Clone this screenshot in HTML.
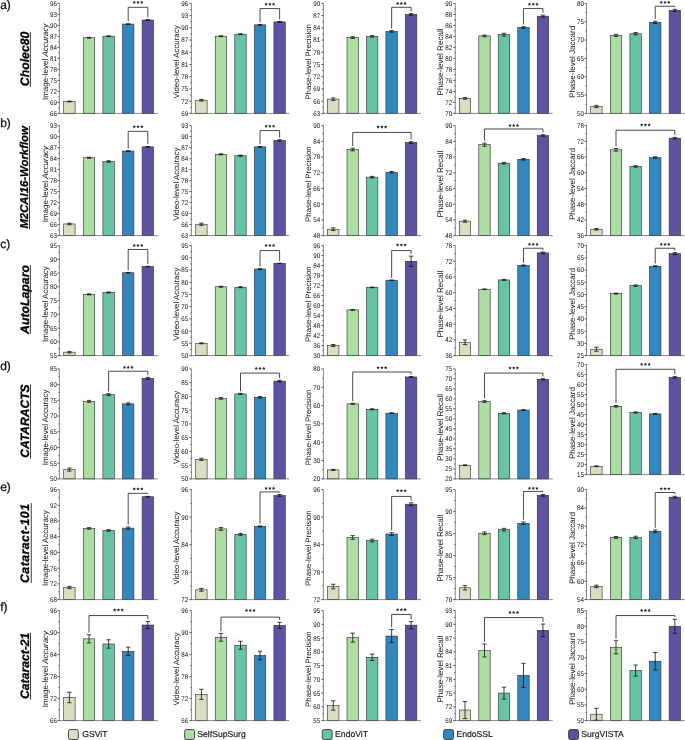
<!DOCTYPE html>
<html><head><meta charset="utf-8"><style>
html,body{margin:0;padding:0;background:#fff;}
body{width:685px;height:740px;overflow:hidden;}
svg{display:block;will-change:transform;}
text{text-rendering:geometricPrecision;}
text{font-family:"Liberation Sans",sans-serif;}
.tk{font-size:6.8px;fill:#111;text-anchor:end;}
.ti{font-size:8px;fill:#111;text-anchor:middle;}
.st{font-size:9.2px;font-weight:bold;fill:#222;text-anchor:middle;}
.lt{font-size:12px;fill:#111;stroke:#111;stroke-width:0.25px;}
.ds{font-weight:bold;font-style:italic;fill:#000;stroke:#000;stroke-width:0.3px;text-anchor:middle;}
.lg{font-size:8.65px;fill:#111;stroke:#111;stroke-width:0.15px;}
</style></head><body>
<svg width="685" height="740" viewBox="0 0 685 740">
<rect x="63.7" y="101.48" width="11.4" height="11.92" fill="#d9dec2" stroke="#2a2a2a" stroke-width="0.6"/>
<rect x="83.3" y="37.76" width="11.4" height="75.64" fill="#acdda2" stroke="#2a2a2a" stroke-width="0.6"/>
<rect x="102.9" y="36.21" width="11.4" height="77.19" fill="#66c3a5" stroke="#2a2a2a" stroke-width="0.6"/>
<rect x="122.5" y="24.09" width="11.4" height="89.31" fill="#3487bd" stroke="#2a2a2a" stroke-width="0.6"/>
<rect x="142.1" y="20.05" width="11.4" height="93.35" fill="#5c53a3" stroke="#2a2a2a" stroke-width="0.6"/>
<path d="M69.4 101.11V101.85M67.2 101.11h4.4M67.2 101.85h4.4" stroke="#111" stroke-width="0.8" fill="none"/>
<path d="M89 37.4V38.13M86.8 37.4h4.4M86.8 38.13h4.4" stroke="#111" stroke-width="0.8" fill="none"/>
<path d="M108.6 35.84V36.58M106.4 35.84h4.4M106.4 36.58h4.4" stroke="#111" stroke-width="0.8" fill="none"/>
<path d="M128.2 23.72V24.45M126 23.72h4.4M126 24.45h4.4" stroke="#111" stroke-width="0.8" fill="none"/>
<path d="M147.8 19.68V20.41M145.6 19.68h4.4M145.6 20.41h4.4" stroke="#111" stroke-width="0.8" fill="none"/>
<path d="M59.4 3.4V113.4M58.4 113.4H157.7" stroke="#555" stroke-width="0.7" fill="none"/>
<path d="M57.4 113.4h2M58.4 107.9h1M57.4 102.4h2M58.4 96.9h1M57.4 91.4h2M58.4 85.9h1M57.4 80.4h2M58.4 74.9h1M57.4 69.4h2M58.4 63.9h1M57.4 58.4h2M58.4 52.9h1M57.4 47.4h2M58.4 41.9h1M57.4 36.4h2M58.4 30.9h1M57.4 25.4h2M58.4 19.9h1M57.4 14.4h2M58.4 8.9h1M57.4 3.4h2" stroke="#333" stroke-width="0.8" fill="none"/>
<text class="tk" transform="translate(57 115.8) scale(0.92 1)">66</text>
<text class="tk" transform="translate(57 104.8) scale(0.92 1)">69</text>
<text class="tk" transform="translate(57 93.8) scale(0.92 1)">72</text>
<text class="tk" transform="translate(57 82.8) scale(0.92 1)">75</text>
<text class="tk" transform="translate(57 71.8) scale(0.92 1)">78</text>
<text class="tk" transform="translate(57 60.8) scale(0.92 1)">81</text>
<text class="tk" transform="translate(57 49.8) scale(0.92 1)">84</text>
<text class="tk" transform="translate(57 38.8) scale(0.92 1)">87</text>
<text class="tk" transform="translate(57 27.8) scale(0.92 1)">90</text>
<text class="tk" transform="translate(57 16.8) scale(0.92 1)">93</text>
<text class="tk" transform="translate(57 5.8) scale(0.92 1)">96</text>
<text class="ti" style="font-size:7.99px" transform="translate(47.7 61.9) rotate(-90)">Image-level <tspan font-style="italic">Accuracy</tspan></text>
<path d="M128.2 21.52V7.3H147.8V17.48" stroke="#2a2a2a" stroke-width="0.85" fill="none"/>
<polygon points="134.25,0.6 134.75,1.71 135.96,1.84 135.06,2.66 135.31,3.85 134.25,3.25 133.19,3.85 133.44,2.66 132.54,1.84 133.75,1.71" fill="#222"/>
<polygon points="138,0.6 138.5,1.71 139.71,1.84 138.81,2.66 139.06,3.85 138,3.25 136.94,3.85 137.19,2.66 136.29,1.84 137.5,1.71" fill="#222"/>
<polygon points="141.75,0.6 142.25,1.71 143.46,1.84 142.56,2.66 142.81,3.85 141.75,3.25 140.69,3.85 140.94,2.66 140.04,1.84 141.25,1.71" fill="#222"/>
<rect x="195.7" y="100.24" width="11.4" height="13.16" fill="#d9dec2" stroke="#2a2a2a" stroke-width="0.6"/>
<rect x="215.25" y="36.21" width="11.4" height="77.19" fill="#acdda2" stroke="#2a2a2a" stroke-width="0.6"/>
<rect x="234.8" y="34.19" width="11.4" height="79.21" fill="#66c3a5" stroke="#2a2a2a" stroke-width="0.6"/>
<rect x="254.35" y="24.86" width="11.4" height="88.54" fill="#3487bd" stroke="#2a2a2a" stroke-width="0.6"/>
<rect x="273.9" y="21.91" width="11.4" height="91.49" fill="#5c53a3" stroke="#2a2a2a" stroke-width="0.6"/>
<path d="M201.4 99.42V101.05M199.2 99.42h4.4M199.2 101.05h4.4" stroke="#111" stroke-width="0.8" fill="none"/>
<path d="M220.95 35.8V36.62M218.75 35.8h4.4M218.75 36.62h4.4" stroke="#111" stroke-width="0.8" fill="none"/>
<path d="M240.5 33.78V34.6M238.3 33.78h4.4M238.3 34.6h4.4" stroke="#111" stroke-width="0.8" fill="none"/>
<path d="M260.05 24.46V25.27M257.85 24.46h4.4M257.85 25.27h4.4" stroke="#111" stroke-width="0.8" fill="none"/>
<path d="M279.6 21.5V22.32M277.4 21.5h4.4M277.4 22.32h4.4" stroke="#111" stroke-width="0.8" fill="none"/>
<path d="M191.4 3.4V113.4M190.4 113.4H289.05" stroke="#555" stroke-width="0.7" fill="none"/>
<path d="M189.4 113.4h2M190.4 107.29h1M189.4 101.18h2M190.4 95.07h1M189.4 88.96h2M190.4 82.84h1M189.4 76.73h2M190.4 70.62h1M189.4 64.51h2M190.4 58.4h1M189.4 52.29h2M190.4 46.18h1M189.4 40.07h2M190.4 33.96h1M189.4 27.84h2M190.4 21.73h1M189.4 15.62h2M190.4 9.51h1M189.4 3.4h2" stroke="#333" stroke-width="0.8" fill="none"/>
<text class="tk" transform="translate(188.3 115.8) scale(0.92 1)">69</text>
<text class="tk" transform="translate(188.3 103.58) scale(0.92 1)">72</text>
<text class="tk" transform="translate(188.3 91.36) scale(0.92 1)">75</text>
<text class="tk" transform="translate(188.3 79.13) scale(0.92 1)">78</text>
<text class="tk" transform="translate(188.3 66.91) scale(0.92 1)">81</text>
<text class="tk" transform="translate(188.3 54.69) scale(0.92 1)">84</text>
<text class="tk" transform="translate(188.3 42.47) scale(0.92 1)">87</text>
<text class="tk" transform="translate(188.3 30.24) scale(0.92 1)">90</text>
<text class="tk" transform="translate(188.3 18.02) scale(0.92 1)">93</text>
<text class="tk" transform="translate(188.3 5.8) scale(0.92 1)">96</text>
<text class="ti" style="font-size:7.88px" transform="translate(179.47 61.9) rotate(-90)">Video-level Accuracy</text>
<path d="M260.05 22.26V8.55H279.6V19.3" stroke="#2a2a2a" stroke-width="0.85" fill="none"/>
<polygon points="266.08,2.46 266.57,3.57 267.79,3.71 266.88,4.52 267.13,5.72 266.08,5.11 265.02,5.72 265.27,4.52 264.36,3.71 265.58,3.57" fill="#222"/>
<polygon points="269.83,2.46 270.32,3.57 271.54,3.71 270.63,4.52 270.88,5.72 269.83,5.11 268.77,5.72 269.02,4.52 268.11,3.71 269.33,3.57" fill="#222"/>
<polygon points="273.58,2.46 274.07,3.57 275.29,3.71 274.38,4.52 274.63,5.72 273.58,5.11 272.52,5.72 272.77,4.52 271.86,3.71 273.08,3.57" fill="#222"/>
<rect x="327.55" y="99.15" width="11.4" height="14.25" fill="#d9dec2" stroke="#2a2a2a" stroke-width="0.6"/>
<rect x="347.01" y="37.61" width="11.4" height="75.79" fill="#acdda2" stroke="#2a2a2a" stroke-width="0.6"/>
<rect x="366.47" y="36.36" width="11.4" height="77.04" fill="#66c3a5" stroke="#2a2a2a" stroke-width="0.6"/>
<rect x="385.93" y="31.39" width="11.4" height="82.01" fill="#3487bd" stroke="#2a2a2a" stroke-width="0.6"/>
<rect x="405.39" y="14.45" width="11.4" height="98.95" fill="#5c53a3" stroke="#2a2a2a" stroke-width="0.6"/>
<path d="M333.25 97.93V100.37M331.05 97.93h4.4M331.05 100.37h4.4" stroke="#111" stroke-width="0.8" fill="none"/>
<path d="M352.71 36.79V38.42M350.51 36.79h4.4M350.51 38.42h4.4" stroke="#111" stroke-width="0.8" fill="none"/>
<path d="M372.17 35.55V37.18M369.97 35.55h4.4M369.97 37.18h4.4" stroke="#111" stroke-width="0.8" fill="none"/>
<path d="M391.63 30.58V32.21M389.43 30.58h4.4M389.43 32.21h4.4" stroke="#111" stroke-width="0.8" fill="none"/>
<path d="M411.09 13.64V15.27M408.89 13.64h4.4M408.89 15.27h4.4" stroke="#111" stroke-width="0.8" fill="none"/>
<path d="M323.4 3.4V113.4M322.4 113.4H420.9" stroke="#555" stroke-width="0.7" fill="none"/>
<path d="M321.4 113.4h2M322.4 107.29h1M321.4 101.18h2M322.4 95.07h1M321.4 88.96h2M322.4 82.84h1M321.4 76.73h2M322.4 70.62h1M321.4 64.51h2M322.4 58.4h1M321.4 52.29h2M322.4 46.18h1M321.4 40.07h2M322.4 33.96h1M321.4 27.84h2M322.4 21.73h1M321.4 15.62h2M322.4 9.51h1M321.4 3.4h2" stroke="#333" stroke-width="0.8" fill="none"/>
<text class="tk" transform="translate(320.3 115.8) scale(0.92 1)">63</text>
<text class="tk" transform="translate(320.3 103.58) scale(0.92 1)">66</text>
<text class="tk" transform="translate(320.3 91.36) scale(0.92 1)">69</text>
<text class="tk" transform="translate(320.3 79.13) scale(0.92 1)">72</text>
<text class="tk" transform="translate(320.3 66.91) scale(0.92 1)">75</text>
<text class="tk" transform="translate(320.3 54.69) scale(0.92 1)">78</text>
<text class="tk" transform="translate(320.3 42.47) scale(0.92 1)">81</text>
<text class="tk" transform="translate(320.3 30.24) scale(0.92 1)">84</text>
<text class="tk" transform="translate(320.3 18.02) scale(0.92 1)">87</text>
<text class="tk" transform="translate(320.3 5.8) scale(0.92 1)">90</text>
<text class="ti" style="font-size:7.86px" transform="translate(311.11 61.9) rotate(-90)">Phase-level Precision</text>
<path d="M391.63 28.38V7.3H411.09V11.44" stroke="#2a2a2a" stroke-width="0.85" fill="none"/>
<polygon points="397.61,1.69 398.11,2.8 399.32,2.93 398.42,3.75 398.67,4.94 397.61,4.34 396.55,4.94 396.8,3.75 395.9,2.93 397.11,2.8" fill="#222"/>
<polygon points="401.36,1.69 401.86,2.8 403.07,2.93 402.17,3.75 402.42,4.94 401.36,4.34 400.3,4.94 400.55,3.75 399.65,2.93 400.86,2.8" fill="#222"/>
<polygon points="405.11,1.69 405.61,2.8 406.82,2.93 405.92,3.75 406.17,4.94 405.11,4.34 404.05,4.94 404.3,3.75 403.4,2.93 404.61,2.8" fill="#222"/>
<rect x="459.3" y="98.37" width="11.4" height="15.03" fill="#d9dec2" stroke="#2a2a2a" stroke-width="0.6"/>
<rect x="478.79" y="35.9" width="11.4" height="77.5" fill="#acdda2" stroke="#2a2a2a" stroke-width="0.6"/>
<rect x="498.28" y="34.66" width="11.4" height="78.74" fill="#66c3a5" stroke="#2a2a2a" stroke-width="0.6"/>
<rect x="517.77" y="27.51" width="11.4" height="85.89" fill="#3487bd" stroke="#2a2a2a" stroke-width="0.6"/>
<rect x="537.26" y="16.16" width="11.4" height="97.24" fill="#5c53a3" stroke="#2a2a2a" stroke-width="0.6"/>
<path d="M465 97.55V99.2M462.8 97.55h4.4M462.8 99.2h4.4" stroke="#111" stroke-width="0.8" fill="none"/>
<path d="M484.49 35.07V36.72M482.29 35.07h4.4M482.29 36.72h4.4" stroke="#111" stroke-width="0.8" fill="none"/>
<path d="M503.98 33.28V36.03M501.78 33.28h4.4M501.78 36.03h4.4" stroke="#111" stroke-width="0.8" fill="none"/>
<path d="M523.47 26.68V28.33M521.27 26.68h4.4M521.27 28.33h4.4" stroke="#111" stroke-width="0.8" fill="none"/>
<path d="M542.96 15.06V17.26M540.76 15.06h4.4M540.76 17.26h4.4" stroke="#111" stroke-width="0.8" fill="none"/>
<path d="M455.3 3.4V113.4M454.3 113.4H552.7" stroke="#555" stroke-width="0.7" fill="none"/>
<path d="M453.3 113.4h2M454.3 107.9h1M453.3 102.4h2M454.3 96.9h1M453.3 91.4h2M454.3 85.9h1M453.3 80.4h2M454.3 74.9h1M453.3 69.4h2M454.3 63.9h1M453.3 58.4h2M454.3 52.9h1M453.3 47.4h2M454.3 41.9h1M453.3 36.4h2M454.3 30.9h1M453.3 25.4h2M454.3 19.9h1M453.3 14.4h2M454.3 8.9h1M453.3 3.4h2" stroke="#333" stroke-width="0.8" fill="none"/>
<text class="tk" transform="translate(452.3 115.8) scale(0.92 1)">70</text>
<text class="tk" transform="translate(452.3 104.8) scale(0.92 1)">72</text>
<text class="tk" transform="translate(452.3 93.8) scale(0.92 1)">74</text>
<text class="tk" transform="translate(452.3 82.8) scale(0.92 1)">76</text>
<text class="tk" transform="translate(452.3 71.8) scale(0.92 1)">78</text>
<text class="tk" transform="translate(452.3 60.8) scale(0.92 1)">80</text>
<text class="tk" transform="translate(452.3 49.8) scale(0.92 1)">82</text>
<text class="tk" transform="translate(452.3 38.8) scale(0.92 1)">84</text>
<text class="tk" transform="translate(452.3 27.8) scale(0.92 1)">86</text>
<text class="tk" transform="translate(452.3 16.8) scale(0.92 1)">88</text>
<text class="tk" transform="translate(452.3 5.8) scale(0.92 1)">90</text>
<text class="ti" style="font-size:8.1px" transform="translate(443.03 61.9) rotate(-90)">Phase-level Recall</text>
<path d="M523.47 24.48V8.55H542.96V12.86" stroke="#2a2a2a" stroke-width="0.85" fill="none"/>
<polygon points="529.47,2.46 529.96,3.57 531.18,3.71 530.27,4.52 530.52,5.72 529.47,5.11 528.41,5.72 528.66,4.52 527.75,3.71 528.97,3.57" fill="#222"/>
<polygon points="533.22,2.46 533.71,3.57 534.93,3.71 534.02,4.52 534.27,5.72 533.22,5.11 532.16,5.72 532.41,4.52 531.5,3.71 532.72,3.57" fill="#222"/>
<polygon points="536.97,2.46 537.46,3.57 538.68,3.71 537.77,4.52 538.02,5.72 536.97,5.11 535.91,5.72 536.16,4.52 535.25,3.71 536.47,3.57" fill="#222"/>
<rect x="590.7" y="106.45" width="11.4" height="6.95" fill="#d9dec2" stroke="#2a2a2a" stroke-width="0.6"/>
<rect x="610.31" y="35.43" width="11.4" height="77.97" fill="#acdda2" stroke="#2a2a2a" stroke-width="0.6"/>
<rect x="629.92" y="33.72" width="11.4" height="79.68" fill="#66c3a5" stroke="#2a2a2a" stroke-width="0.6"/>
<rect x="649.53" y="22.38" width="11.4" height="91.02" fill="#3487bd" stroke="#2a2a2a" stroke-width="0.6"/>
<rect x="669.14" y="10.41" width="11.4" height="102.99" fill="#5c53a3" stroke="#2a2a2a" stroke-width="0.6"/>
<path d="M596.4 105.35V107.55M594.2 105.35h4.4M594.2 107.55h4.4" stroke="#111" stroke-width="0.8" fill="none"/>
<path d="M616.01 34.33V36.53M613.81 34.33h4.4M613.81 36.53h4.4" stroke="#111" stroke-width="0.8" fill="none"/>
<path d="M635.62 32.62V34.82M633.42 32.62h4.4M633.42 34.82h4.4" stroke="#111" stroke-width="0.8" fill="none"/>
<path d="M655.23 21.28V23.48M653.03 21.28h4.4M653.03 23.48h4.4" stroke="#111" stroke-width="0.8" fill="none"/>
<path d="M674.84 9.31V11.51M672.64 9.31h4.4M672.64 11.51h4.4" stroke="#111" stroke-width="0.8" fill="none"/>
<path d="M586.5 3.4V113.4M585.5 113.4H684.6" stroke="#555" stroke-width="0.7" fill="none"/>
<path d="M584.5 113.4h2M585.5 104.23h1M584.5 95.07h2M585.5 85.9h1M584.5 76.73h2M585.5 67.57h1M584.5 58.4h2M585.5 49.23h1M584.5 40.07h2M585.5 30.9h1M584.5 21.73h2M585.5 12.57h1M584.5 3.4h2" stroke="#333" stroke-width="0.8" fill="none"/>
<text class="tk" transform="translate(584 115.8) scale(0.92 1)">50</text>
<text class="tk" transform="translate(584 97.47) scale(0.92 1)">55</text>
<text class="tk" transform="translate(584 79.13) scale(0.92 1)">60</text>
<text class="tk" transform="translate(584 60.8) scale(0.92 1)">65</text>
<text class="tk" transform="translate(584 42.47) scale(0.92 1)">70</text>
<text class="tk" transform="translate(584 24.13) scale(0.92 1)">75</text>
<text class="tk" transform="translate(584 5.8) scale(0.92 1)">80</text>
<text class="ti" style="font-size:8px" transform="translate(574.56 61.9) rotate(-90)">Phase-level Jaccard</text>
<path d="M655.23 19.08V6.22H674.84V7.11" stroke="#2a2a2a" stroke-width="0.85" fill="none"/>
<polygon points="661.28,0.6 661.78,1.71 663,1.84 662.09,2.66 662.34,3.85 661.28,3.25 660.23,3.85 660.48,2.66 659.57,1.84 660.79,1.71" fill="#222"/>
<polygon points="665.03,0.6 665.53,1.71 666.75,1.84 665.84,2.66 666.09,3.85 665.03,3.25 663.98,3.85 664.23,2.66 663.32,1.84 664.54,1.71" fill="#222"/>
<polygon points="668.78,0.6 669.28,1.71 670.5,1.84 669.59,2.66 669.84,3.85 668.78,3.25 667.73,3.85 667.98,2.66 667.07,1.84 668.29,1.71" fill="#222"/>
<rect x="63.7" y="223.95" width="11.4" height="11.65" fill="#d9dec2" stroke="#2a2a2a" stroke-width="0.6"/>
<rect x="83.3" y="157.74" width="11.4" height="77.86" fill="#acdda2" stroke="#2a2a2a" stroke-width="0.6"/>
<rect x="102.9" y="161.47" width="11.4" height="74.13" fill="#66c3a5" stroke="#2a2a2a" stroke-width="0.6"/>
<rect x="122.5" y="151.06" width="11.4" height="84.54" fill="#3487bd" stroke="#2a2a2a" stroke-width="0.6"/>
<rect x="142.1" y="146.86" width="11.4" height="88.74" fill="#5c53a3" stroke="#2a2a2a" stroke-width="0.6"/>
<path d="M69.4 223.21V224.68M67.2 223.21h4.4M67.2 224.68h4.4" stroke="#111" stroke-width="0.8" fill="none"/>
<path d="M89 157.19V158.29M86.8 157.19h4.4M86.8 158.29h4.4" stroke="#111" stroke-width="0.8" fill="none"/>
<path d="M108.6 160.74V162.21M106.4 160.74h4.4M106.4 162.21h4.4" stroke="#111" stroke-width="0.8" fill="none"/>
<path d="M128.2 150.69V151.43M126 150.69h4.4M126 151.43h4.4" stroke="#111" stroke-width="0.8" fill="none"/>
<path d="M147.8 146.5V147.23M145.6 146.5h4.4M145.6 147.23h4.4" stroke="#111" stroke-width="0.8" fill="none"/>
<path d="M59.4 125.6V235.6M58.4 235.6H157.7" stroke="#555" stroke-width="0.7" fill="none"/>
<path d="M57.4 235.6h2M58.4 230.1h1M57.4 224.6h2M58.4 219.1h1M57.4 213.6h2M58.4 208.1h1M57.4 202.6h2M58.4 197.1h1M57.4 191.6h2M58.4 186.1h1M57.4 180.6h2M58.4 175.1h1M57.4 169.6h2M58.4 164.1h1M57.4 158.6h2M58.4 153.1h1M57.4 147.6h2M58.4 142.1h1M57.4 136.6h2M58.4 131.1h1M57.4 125.6h2" stroke="#333" stroke-width="0.8" fill="none"/>
<text class="tk" transform="translate(57 238) scale(0.92 1)">63</text>
<text class="tk" transform="translate(57 227) scale(0.92 1)">66</text>
<text class="tk" transform="translate(57 216) scale(0.92 1)">69</text>
<text class="tk" transform="translate(57 205) scale(0.92 1)">72</text>
<text class="tk" transform="translate(57 194) scale(0.92 1)">75</text>
<text class="tk" transform="translate(57 183) scale(0.92 1)">78</text>
<text class="tk" transform="translate(57 172) scale(0.92 1)">81</text>
<text class="tk" transform="translate(57 161) scale(0.92 1)">84</text>
<text class="tk" transform="translate(57 150) scale(0.92 1)">87</text>
<text class="tk" transform="translate(57 139) scale(0.92 1)">90</text>
<text class="tk" transform="translate(57 128) scale(0.92 1)">93</text>
<text class="ti" style="font-size:7.99px" transform="translate(47.7 184.1) rotate(-90)">Image-level <tspan font-style="italic">Accuracy</tspan></text>
<path d="M128.2 148.49V131.32H147.8V144.3" stroke="#2a2a2a" stroke-width="0.85" fill="none"/>
<polygon points="134.25,124.93 134.75,126.04 135.96,126.17 135.06,126.99 135.31,128.18 134.25,127.58 133.19,128.18 133.44,126.99 132.54,126.17 133.75,126.04" fill="#222"/>
<polygon points="138,124.93 138.5,126.04 139.71,126.17 138.81,126.99 139.06,128.18 138,127.58 136.94,128.18 137.19,126.99 136.29,126.17 137.5,126.04" fill="#222"/>
<polygon points="141.75,124.93 142.25,126.04 143.46,126.17 142.56,126.99 142.81,128.18 141.75,127.58 140.69,128.18 140.94,126.99 140.04,126.17 141.25,126.04" fill="#222"/>
<rect x="195.7" y="224.26" width="11.4" height="11.34" fill="#d9dec2" stroke="#2a2a2a" stroke-width="0.6"/>
<rect x="215.25" y="154.32" width="11.4" height="81.28" fill="#acdda2" stroke="#2a2a2a" stroke-width="0.6"/>
<rect x="234.8" y="155.72" width="11.4" height="79.88" fill="#66c3a5" stroke="#2a2a2a" stroke-width="0.6"/>
<rect x="254.35" y="146.86" width="11.4" height="88.74" fill="#3487bd" stroke="#2a2a2a" stroke-width="0.6"/>
<rect x="273.9" y="140.49" width="11.4" height="95.11" fill="#5c53a3" stroke="#2a2a2a" stroke-width="0.6"/>
<path d="M201.4 223.16V225.36M199.2 223.16h4.4M199.2 225.36h4.4" stroke="#111" stroke-width="0.8" fill="none"/>
<path d="M220.95 153.77V154.87M218.75 153.77h4.4M218.75 154.87h4.4" stroke="#111" stroke-width="0.8" fill="none"/>
<path d="M240.5 155.17V156.27M238.3 155.17h4.4M238.3 156.27h4.4" stroke="#111" stroke-width="0.8" fill="none"/>
<path d="M260.05 146.5V147.23M257.85 146.5h4.4M257.85 147.23h4.4" stroke="#111" stroke-width="0.8" fill="none"/>
<path d="M279.6 139.76V141.23M277.4 139.76h4.4M277.4 141.23h4.4" stroke="#111" stroke-width="0.8" fill="none"/>
<path d="M191.4 125.6V235.6M190.4 235.6H289.05" stroke="#555" stroke-width="0.7" fill="none"/>
<path d="M189.4 235.6h2M190.4 230.1h1M189.4 224.6h2M190.4 219.1h1M189.4 213.6h2M190.4 208.1h1M189.4 202.6h2M190.4 197.1h1M189.4 191.6h2M190.4 186.1h1M189.4 180.6h2M190.4 175.1h1M189.4 169.6h2M190.4 164.1h1M189.4 158.6h2M190.4 153.1h1M189.4 147.6h2M190.4 142.1h1M189.4 136.6h2M190.4 131.1h1M189.4 125.6h2" stroke="#333" stroke-width="0.8" fill="none"/>
<text class="tk" transform="translate(188.3 238) scale(0.92 1)">63</text>
<text class="tk" transform="translate(188.3 227) scale(0.92 1)">66</text>
<text class="tk" transform="translate(188.3 216) scale(0.92 1)">69</text>
<text class="tk" transform="translate(188.3 205) scale(0.92 1)">72</text>
<text class="tk" transform="translate(188.3 194) scale(0.92 1)">75</text>
<text class="tk" transform="translate(188.3 183) scale(0.92 1)">78</text>
<text class="tk" transform="translate(188.3 172) scale(0.92 1)">81</text>
<text class="tk" transform="translate(188.3 161) scale(0.92 1)">84</text>
<text class="tk" transform="translate(188.3 150) scale(0.92 1)">87</text>
<text class="tk" transform="translate(188.3 139) scale(0.92 1)">90</text>
<text class="tk" transform="translate(188.3 128) scale(0.92 1)">93</text>
<text class="ti" style="font-size:7.88px" transform="translate(179.47 184.1) rotate(-90)">Video-level Accuracy</text>
<path d="M260.05 144.3V130.55H279.6V137.56" stroke="#2a2a2a" stroke-width="0.85" fill="none"/>
<polygon points="266.08,124.46 266.57,125.57 267.79,125.71 266.88,126.52 267.13,127.72 266.08,127.11 265.02,127.72 265.27,126.52 264.36,125.71 265.58,125.57" fill="#222"/>
<polygon points="269.83,124.46 270.32,125.57 271.54,125.71 270.63,126.52 270.88,127.72 269.83,127.11 268.77,127.72 269.02,126.52 268.11,125.71 269.33,125.57" fill="#222"/>
<polygon points="273.58,124.46 274.07,125.57 275.29,125.71 274.38,126.52 274.63,127.72 273.58,127.11 272.52,127.72 272.77,126.52 271.86,125.71 273.08,125.57" fill="#222"/>
<rect x="327.55" y="229.23" width="11.4" height="6.37" fill="#d9dec2" stroke="#2a2a2a" stroke-width="0.6"/>
<rect x="347.01" y="149.51" width="11.4" height="86.09" fill="#acdda2" stroke="#2a2a2a" stroke-width="0.6"/>
<rect x="366.47" y="177.17" width="11.4" height="58.43" fill="#66c3a5" stroke="#2a2a2a" stroke-width="0.6"/>
<rect x="385.93" y="172.2" width="11.4" height="63.4" fill="#3487bd" stroke="#2a2a2a" stroke-width="0.6"/>
<rect x="405.39" y="142.51" width="11.4" height="93.09" fill="#5c53a3" stroke="#2a2a2a" stroke-width="0.6"/>
<path d="M333.25 227.92V230.54M331.05 227.92h4.4M331.05 230.54h4.4" stroke="#111" stroke-width="0.8" fill="none"/>
<path d="M352.71 148.2V150.82M350.51 148.2h4.4M350.51 150.82h4.4" stroke="#111" stroke-width="0.8" fill="none"/>
<path d="M372.17 176.38V177.95M369.97 176.38h4.4M369.97 177.95h4.4" stroke="#111" stroke-width="0.8" fill="none"/>
<path d="M391.63 171.41V172.98M389.43 171.41h4.4M389.43 172.98h4.4" stroke="#111" stroke-width="0.8" fill="none"/>
<path d="M411.09 141.73V143.3M408.89 141.73h4.4M408.89 143.3h4.4" stroke="#111" stroke-width="0.8" fill="none"/>
<path d="M323.4 125.6V235.6M322.4 235.6H420.9" stroke="#555" stroke-width="0.7" fill="none"/>
<path d="M321.4 235.6h2M322.4 227.74h1M321.4 219.89h2M322.4 212.03h1M321.4 204.17h2M322.4 196.31h1M321.4 188.46h2M322.4 180.6h1M321.4 172.74h2M322.4 164.89h1M321.4 157.03h2M322.4 149.17h1M321.4 141.31h2M322.4 133.46h1M321.4 125.6h2" stroke="#333" stroke-width="0.8" fill="none"/>
<text class="tk" transform="translate(320.3 238) scale(0.92 1)">48</text>
<text class="tk" transform="translate(320.3 222.29) scale(0.92 1)">54</text>
<text class="tk" transform="translate(320.3 206.57) scale(0.92 1)">60</text>
<text class="tk" transform="translate(320.3 190.86) scale(0.92 1)">66</text>
<text class="tk" transform="translate(320.3 175.14) scale(0.92 1)">72</text>
<text class="tk" transform="translate(320.3 159.43) scale(0.92 1)">78</text>
<text class="tk" transform="translate(320.3 143.71) scale(0.92 1)">84</text>
<text class="tk" transform="translate(320.3 128) scale(0.92 1)">90</text>
<text class="ti" style="font-size:7.86px" transform="translate(311.11 184.1) rotate(-90)">Phase-level Precision</text>
<path d="M352.71 146V132.41H411.09V139.53" stroke="#2a2a2a" stroke-width="0.85" fill="none"/>
<polygon points="378.15,125.24 378.65,126.35 379.86,126.48 378.96,127.3 379.21,128.5 378.15,127.89 377.09,128.5 377.34,127.3 376.44,126.48 377.65,126.35" fill="#222"/>
<polygon points="381.9,125.24 382.4,126.35 383.61,126.48 382.71,127.3 382.96,128.5 381.9,127.89 380.84,128.5 381.09,127.3 380.19,126.48 381.4,126.35" fill="#222"/>
<polygon points="385.65,125.24 386.15,126.35 387.36,126.48 386.46,127.3 386.71,128.5 385.65,127.89 384.59,128.5 384.84,127.3 383.94,126.48 385.15,126.35" fill="#222"/>
<rect x="459.3" y="221.15" width="11.4" height="14.45" fill="#d9dec2" stroke="#2a2a2a" stroke-width="0.6"/>
<rect x="478.79" y="144.69" width="11.4" height="90.91" fill="#acdda2" stroke="#2a2a2a" stroke-width="0.6"/>
<rect x="498.28" y="163.18" width="11.4" height="72.42" fill="#66c3a5" stroke="#2a2a2a" stroke-width="0.6"/>
<rect x="517.77" y="159.3" width="11.4" height="76.3" fill="#3487bd" stroke="#2a2a2a" stroke-width="0.6"/>
<rect x="537.26" y="135.52" width="11.4" height="100.08" fill="#5c53a3" stroke="#2a2a2a" stroke-width="0.6"/>
<path d="M465 220.1V222.2M462.8 220.1h4.4M462.8 222.2h4.4" stroke="#111" stroke-width="0.8" fill="none"/>
<path d="M484.49 143.12V146.26M482.29 143.12h4.4M482.29 146.26h4.4" stroke="#111" stroke-width="0.8" fill="none"/>
<path d="M503.98 162.4V163.97M501.78 162.4h4.4M501.78 163.97h4.4" stroke="#111" stroke-width="0.8" fill="none"/>
<path d="M523.47 158.51V160.08M521.27 158.51h4.4M521.27 160.08h4.4" stroke="#111" stroke-width="0.8" fill="none"/>
<path d="M542.96 134.73V136.31M540.76 134.73h4.4M540.76 136.31h4.4" stroke="#111" stroke-width="0.8" fill="none"/>
<path d="M455.3 125.6V235.6M454.3 235.6H552.7" stroke="#555" stroke-width="0.7" fill="none"/>
<path d="M453.3 235.6h2M454.3 227.74h1M453.3 219.89h2M454.3 212.03h1M453.3 204.17h2M454.3 196.31h1M453.3 188.46h2M454.3 180.6h1M453.3 172.74h2M454.3 164.89h1M453.3 157.03h2M454.3 149.17h1M453.3 141.31h2M454.3 133.46h1M453.3 125.6h2" stroke="#333" stroke-width="0.8" fill="none"/>
<text class="tk" transform="translate(452.3 238) scale(0.92 1)">48</text>
<text class="tk" transform="translate(452.3 222.29) scale(0.92 1)">54</text>
<text class="tk" transform="translate(452.3 206.57) scale(0.92 1)">60</text>
<text class="tk" transform="translate(452.3 190.86) scale(0.92 1)">66</text>
<text class="tk" transform="translate(452.3 175.14) scale(0.92 1)">72</text>
<text class="tk" transform="translate(452.3 159.43) scale(0.92 1)">78</text>
<text class="tk" transform="translate(452.3 143.71) scale(0.92 1)">84</text>
<text class="tk" transform="translate(452.3 128) scale(0.92 1)">90</text>
<text class="ti" style="font-size:8.1px" transform="translate(443.03 184.1) rotate(-90)">Phase-level Recall</text>
<path d="M484.49 140.92V128.99H542.96V132.53" stroke="#2a2a2a" stroke-width="0.85" fill="none"/>
<polygon points="509.98,123.69 510.47,124.8 511.69,124.93 510.78,125.75 511.03,126.94 509.98,126.34 508.92,126.94 509.17,125.75 508.26,124.93 509.48,124.8" fill="#222"/>
<polygon points="513.73,123.69 514.22,124.8 515.44,124.93 514.53,125.75 514.78,126.94 513.73,126.34 512.67,126.94 512.92,125.75 512.01,124.93 513.23,124.8" fill="#222"/>
<polygon points="517.48,123.69 517.97,124.8 519.19,124.93 518.28,125.75 518.53,126.94 517.48,126.34 516.42,126.94 516.67,125.75 515.76,124.93 516.98,124.8" fill="#222"/>
<rect x="590.7" y="229.23" width="11.4" height="6.37" fill="#d9dec2" stroke="#2a2a2a" stroke-width="0.6"/>
<rect x="610.31" y="149.82" width="11.4" height="85.78" fill="#acdda2" stroke="#2a2a2a" stroke-width="0.6"/>
<rect x="629.92" y="166.45" width="11.4" height="69.15" fill="#66c3a5" stroke="#2a2a2a" stroke-width="0.6"/>
<rect x="649.53" y="157.59" width="11.4" height="78.01" fill="#3487bd" stroke="#2a2a2a" stroke-width="0.6"/>
<rect x="669.14" y="138.16" width="11.4" height="97.44" fill="#5c53a3" stroke="#2a2a2a" stroke-width="0.6"/>
<path d="M596.4 228.44V230.02M594.2 228.44h4.4M594.2 230.02h4.4" stroke="#111" stroke-width="0.8" fill="none"/>
<path d="M616.01 148.51V151.13M613.81 148.51h4.4M613.81 151.13h4.4" stroke="#111" stroke-width="0.8" fill="none"/>
<path d="M635.62 165.66V167.23M633.42 165.66h4.4M633.42 167.23h4.4" stroke="#111" stroke-width="0.8" fill="none"/>
<path d="M655.23 156.8V158.37M653.03 156.8h4.4M653.03 158.37h4.4" stroke="#111" stroke-width="0.8" fill="none"/>
<path d="M674.84 137.38V138.95M672.64 137.38h4.4M672.64 138.95h4.4" stroke="#111" stroke-width="0.8" fill="none"/>
<path d="M586.5 125.6V235.6M585.5 235.6H684.6" stroke="#555" stroke-width="0.7" fill="none"/>
<path d="M584.5 235.6h2M585.5 227.74h1M584.5 219.89h2M585.5 212.03h1M584.5 204.17h2M585.5 196.31h1M584.5 188.46h2M585.5 180.6h1M584.5 172.74h2M585.5 164.89h1M584.5 157.03h2M585.5 149.17h1M584.5 141.31h2M585.5 133.46h1M584.5 125.6h2" stroke="#333" stroke-width="0.8" fill="none"/>
<text class="tk" transform="translate(584 238) scale(0.92 1)">36</text>
<text class="tk" transform="translate(584 222.29) scale(0.92 1)">42</text>
<text class="tk" transform="translate(584 206.57) scale(0.92 1)">48</text>
<text class="tk" transform="translate(584 190.86) scale(0.92 1)">54</text>
<text class="tk" transform="translate(584 175.14) scale(0.92 1)">60</text>
<text class="tk" transform="translate(584 159.43) scale(0.92 1)">66</text>
<text class="tk" transform="translate(584 143.71) scale(0.92 1)">72</text>
<text class="tk" transform="translate(584 128) scale(0.92 1)">78</text>
<text class="ti" style="font-size:8px" transform="translate(574.56 184.1) rotate(-90)">Phase-level Jaccard</text>
<path d="M616.01 146.31V130.24H674.84V135.18" stroke="#2a2a2a" stroke-width="0.85" fill="none"/>
<polygon points="641.67,123.22 642.17,124.33 643.39,124.46 642.48,125.28 642.73,126.48 641.67,125.87 640.62,126.48 640.87,125.28 639.96,124.46 641.18,124.33" fill="#222"/>
<polygon points="645.42,123.22 645.92,124.33 647.14,124.46 646.23,125.28 646.48,126.48 645.42,125.87 644.37,126.48 644.62,125.28 643.71,124.46 644.93,124.33" fill="#222"/>
<polygon points="649.17,123.22 649.67,124.33 650.89,124.46 649.98,125.28 650.23,126.48 649.17,125.87 648.12,126.48 648.37,125.28 647.46,124.46 648.68,124.33" fill="#222"/>
<rect x="63.7" y="352.18" width="11.4" height="3.42" fill="#d9dec2" stroke="#2a2a2a" stroke-width="0.6"/>
<rect x="83.3" y="294.37" width="11.4" height="61.23" fill="#acdda2" stroke="#2a2a2a" stroke-width="0.6"/>
<rect x="102.9" y="292.51" width="11.4" height="63.09" fill="#66c3a5" stroke="#2a2a2a" stroke-width="0.6"/>
<rect x="122.5" y="272.77" width="11.4" height="82.83" fill="#3487bd" stroke="#2a2a2a" stroke-width="0.6"/>
<rect x="142.1" y="266.55" width="11.4" height="89.05" fill="#5c53a3" stroke="#2a2a2a" stroke-width="0.6"/>
<path d="M69.4 351.36V353.01M67.2 351.36h4.4M67.2 353.01h4.4" stroke="#111" stroke-width="0.8" fill="none"/>
<path d="M89 293.82V294.92M86.8 293.82h4.4M86.8 294.92h4.4" stroke="#111" stroke-width="0.8" fill="none"/>
<path d="M108.6 291.96V293.06M106.4 291.96h4.4M106.4 293.06h4.4" stroke="#111" stroke-width="0.8" fill="none"/>
<path d="M128.2 272.5V273.05M126 272.5h4.4M126 273.05h4.4" stroke="#111" stroke-width="0.8" fill="none"/>
<path d="M147.8 266.28V266.83M145.6 266.28h4.4M145.6 266.83h4.4" stroke="#111" stroke-width="0.8" fill="none"/>
<path d="M59.4 245.6V355.6M58.4 355.6H157.7" stroke="#555" stroke-width="0.7" fill="none"/>
<path d="M57.4 355.6h2M58.4 348.73h1M57.4 341.85h2M58.4 334.98h1M57.4 328.1h2M58.4 321.23h1M57.4 314.35h2M58.4 307.48h1M57.4 300.6h2M58.4 293.73h1M57.4 286.85h2M58.4 279.98h1M57.4 273.1h2M58.4 266.23h1M57.4 259.35h2M58.4 252.48h1M57.4 245.6h2" stroke="#333" stroke-width="0.8" fill="none"/>
<text class="tk" transform="translate(57 358) scale(0.92 1)">55</text>
<text class="tk" transform="translate(57 344.25) scale(0.92 1)">60</text>
<text class="tk" transform="translate(57 330.5) scale(0.92 1)">65</text>
<text class="tk" transform="translate(57 316.75) scale(0.92 1)">70</text>
<text class="tk" transform="translate(57 303) scale(0.92 1)">75</text>
<text class="tk" transform="translate(57 289.25) scale(0.92 1)">80</text>
<text class="tk" transform="translate(57 275.5) scale(0.92 1)">85</text>
<text class="tk" transform="translate(57 261.75) scale(0.92 1)">90</text>
<text class="tk" transform="translate(57 248) scale(0.92 1)">95</text>
<text class="ti" style="font-size:7.99px" transform="translate(47.7 304.1) rotate(-90)">Image-level Accuracy</text>
<path d="M128.2 270.3V249.46H147.8V264.08" stroke="#2a2a2a" stroke-width="0.85" fill="none"/>
<polygon points="134.25,243.69 134.75,244.8 135.96,244.93 135.06,245.75 135.31,246.94 134.25,246.34 133.19,246.94 133.44,245.75 132.54,244.93 133.75,244.8" fill="#222"/>
<polygon points="138,243.69 138.5,244.8 139.71,244.93 138.81,245.75 139.06,246.94 138,246.34 136.94,246.94 137.19,245.75 136.29,244.93 137.5,244.8" fill="#222"/>
<polygon points="141.75,243.69 142.25,244.8 143.46,244.93 142.56,245.75 142.81,246.94 141.75,246.34 140.69,246.94 140.94,245.75 140.04,244.93 141.25,244.8" fill="#222"/>
<rect x="195.7" y="343.32" width="11.4" height="12.28" fill="#d9dec2" stroke="#2a2a2a" stroke-width="0.6"/>
<rect x="215.25" y="286.76" width="11.4" height="68.84" fill="#acdda2" stroke="#2a2a2a" stroke-width="0.6"/>
<rect x="234.8" y="287.22" width="11.4" height="68.38" fill="#66c3a5" stroke="#2a2a2a" stroke-width="0.6"/>
<rect x="254.35" y="269.04" width="11.4" height="86.56" fill="#3487bd" stroke="#2a2a2a" stroke-width="0.6"/>
<rect x="273.9" y="263.45" width="11.4" height="92.15" fill="#5c53a3" stroke="#2a2a2a" stroke-width="0.6"/>
<path d="M201.4 342.84V343.81M199.2 342.84h4.4M199.2 343.81h4.4" stroke="#111" stroke-width="0.8" fill="none"/>
<path d="M220.95 286.27V287.25M218.75 286.27h4.4M218.75 287.25h4.4" stroke="#111" stroke-width="0.8" fill="none"/>
<path d="M240.5 286.73V287.71M238.3 286.73h4.4M238.3 287.71h4.4" stroke="#111" stroke-width="0.8" fill="none"/>
<path d="M260.05 268.8V269.28M257.85 268.8h4.4M257.85 269.28h4.4" stroke="#111" stroke-width="0.8" fill="none"/>
<path d="M279.6 263.2V263.69M277.4 263.2h4.4M277.4 263.69h4.4" stroke="#111" stroke-width="0.8" fill="none"/>
<path d="M191.4 245.6V355.6M190.4 355.6H289.05" stroke="#555" stroke-width="0.7" fill="none"/>
<path d="M189.4 355.6h2M190.4 349.49h1M189.4 343.38h2M190.4 337.27h1M189.4 331.16h2M190.4 325.04h1M189.4 318.93h2M190.4 312.82h1M189.4 306.71h2M190.4 300.6h1M189.4 294.49h2M190.4 288.38h1M189.4 282.27h2M190.4 276.16h1M189.4 270.04h2M190.4 263.93h1M189.4 257.82h2M190.4 251.71h1M189.4 245.6h2" stroke="#333" stroke-width="0.8" fill="none"/>
<text class="tk" transform="translate(188.3 358) scale(0.92 1)">50</text>
<text class="tk" transform="translate(188.3 345.78) scale(0.92 1)">55</text>
<text class="tk" transform="translate(188.3 333.56) scale(0.92 1)">60</text>
<text class="tk" transform="translate(188.3 321.33) scale(0.92 1)">65</text>
<text class="tk" transform="translate(188.3 309.11) scale(0.92 1)">70</text>
<text class="tk" transform="translate(188.3 296.89) scale(0.92 1)">75</text>
<text class="tk" transform="translate(188.3 284.67) scale(0.92 1)">80</text>
<text class="tk" transform="translate(188.3 272.44) scale(0.92 1)">85</text>
<text class="tk" transform="translate(188.3 260.22) scale(0.92 1)">90</text>
<text class="tk" transform="translate(188.3 248) scale(0.92 1)">95</text>
<text class="ti" style="font-size:7.88px" transform="translate(179.47 304.1) rotate(-90)">Video-level Accuracy</text>
<path d="M260.05 266.6V250.55H279.6V261" stroke="#2a2a2a" stroke-width="0.85" fill="none"/>
<polygon points="266.08,243.69 266.57,244.8 267.79,244.93 266.88,245.75 267.13,246.94 266.08,246.34 265.02,246.94 265.27,245.75 264.36,244.93 265.58,244.8" fill="#222"/>
<polygon points="269.83,243.69 270.32,244.8 271.54,244.93 270.63,245.75 270.88,246.94 269.83,246.34 268.77,246.94 269.02,245.75 268.11,244.93 269.33,244.8" fill="#222"/>
<polygon points="273.58,243.69 274.07,244.8 275.29,244.93 274.38,245.75 274.63,246.94 273.58,246.34 272.52,246.94 272.77,245.75 271.86,244.93 273.08,244.8" fill="#222"/>
<rect x="327.55" y="345.5" width="11.4" height="10.1" fill="#d9dec2" stroke="#2a2a2a" stroke-width="0.6"/>
<rect x="347.01" y="309.91" width="11.4" height="45.69" fill="#acdda2" stroke="#2a2a2a" stroke-width="0.6"/>
<rect x="366.47" y="287.38" width="11.4" height="68.22" fill="#66c3a5" stroke="#2a2a2a" stroke-width="0.6"/>
<rect x="385.93" y="280.23" width="11.4" height="75.37" fill="#3487bd" stroke="#2a2a2a" stroke-width="0.6"/>
<rect x="405.39" y="261.27" width="11.4" height="94.33" fill="#5c53a3" stroke="#2a2a2a" stroke-width="0.6"/>
<path d="M333.25 344.5V346.5M331.05 344.5h4.4M331.05 346.5h4.4" stroke="#111" stroke-width="0.8" fill="none"/>
<path d="M352.71 309.58V310.25M350.51 309.58h4.4M350.51 310.25h4.4" stroke="#111" stroke-width="0.8" fill="none"/>
<path d="M372.17 287.05V287.71M369.97 287.05h4.4M369.97 287.71h4.4" stroke="#111" stroke-width="0.8" fill="none"/>
<path d="M391.63 280.06V280.4M389.43 280.06h4.4M389.43 280.4h4.4" stroke="#111" stroke-width="0.8" fill="none"/>
<path d="M411.09 256.14V266.4M408.89 256.14h4.4M408.89 266.4h4.4" stroke="#111" stroke-width="0.8" fill="none"/>
<path d="M323.4 245.6V355.6M322.4 355.6H420.9" stroke="#555" stroke-width="0.7" fill="none"/>
<path d="M321.4 355.6h2M322.4 350.6h1M321.4 345.6h2M322.4 340.6h1M321.4 335.6h2M322.4 330.6h1M321.4 325.6h2M322.4 320.6h1M321.4 315.6h2M322.4 310.6h1M321.4 305.6h2M322.4 300.6h1M321.4 295.6h2M322.4 290.6h1M321.4 285.6h2M322.4 280.6h1M321.4 275.6h2M322.4 270.6h1M321.4 265.6h2M322.4 260.6h1M321.4 255.6h2M322.4 250.6h1M321.4 245.6h2" stroke="#333" stroke-width="0.8" fill="none"/>
<text class="tk" transform="translate(320.3 358) scale(0.92 1)">30</text>
<text class="tk" transform="translate(320.3 348) scale(0.92 1)">36</text>
<text class="tk" transform="translate(320.3 338) scale(0.92 1)">42</text>
<text class="tk" transform="translate(320.3 328) scale(0.92 1)">48</text>
<text class="tk" transform="translate(320.3 318) scale(0.92 1)">54</text>
<text class="tk" transform="translate(320.3 308) scale(0.92 1)">60</text>
<text class="tk" transform="translate(320.3 298) scale(0.92 1)">66</text>
<text class="tk" transform="translate(320.3 288) scale(0.92 1)">72</text>
<text class="tk" transform="translate(320.3 278) scale(0.92 1)">78</text>
<text class="tk" transform="translate(320.3 268) scale(0.92 1)">84</text>
<text class="tk" transform="translate(320.3 258) scale(0.92 1)">90</text>
<text class="tk" transform="translate(320.3 248) scale(0.92 1)">96</text>
<text class="ti" style="font-size:7.86px" transform="translate(311.11 304.1) rotate(-90)">Phase-level Precision</text>
<path d="M391.63 277.86V250.55H411.09V253.94" stroke="#2a2a2a" stroke-width="0.85" fill="none"/>
<polygon points="397.61,243.22 398.11,244.33 399.32,244.46 398.42,245.28 398.67,246.48 397.61,245.87 396.55,246.48 396.8,245.28 395.9,244.46 397.11,244.33" fill="#222"/>
<polygon points="401.36,243.22 401.86,244.33 403.07,244.46 402.17,245.28 402.42,246.48 401.36,245.87 400.3,246.48 400.55,245.28 399.65,244.46 400.86,244.33" fill="#222"/>
<polygon points="405.11,243.22 405.61,244.33 406.82,244.46 405.92,245.28 406.17,246.48 405.11,245.87 404.05,246.48 404.3,245.28 403.4,244.46 404.61,244.33" fill="#222"/>
<rect x="459.3" y="342.24" width="11.4" height="13.36" fill="#d9dec2" stroke="#2a2a2a" stroke-width="0.6"/>
<rect x="478.79" y="289.24" width="11.4" height="66.36" fill="#acdda2" stroke="#2a2a2a" stroke-width="0.6"/>
<rect x="498.28" y="279.92" width="11.4" height="75.68" fill="#66c3a5" stroke="#2a2a2a" stroke-width="0.6"/>
<rect x="517.77" y="265.47" width="11.4" height="90.13" fill="#3487bd" stroke="#2a2a2a" stroke-width="0.6"/>
<rect x="537.26" y="252.88" width="11.4" height="102.72" fill="#5c53a3" stroke="#2a2a2a" stroke-width="0.6"/>
<path d="M465 339.91V344.57M462.8 339.91h4.4M462.8 344.57h4.4" stroke="#111" stroke-width="0.8" fill="none"/>
<path d="M484.49 288.98V289.51M482.29 288.98h4.4M482.29 289.51h4.4" stroke="#111" stroke-width="0.8" fill="none"/>
<path d="M503.98 279.4V280.44M501.78 279.4h4.4M501.78 280.44h4.4" stroke="#111" stroke-width="0.8" fill="none"/>
<path d="M523.47 264.94V265.99M521.27 264.94h4.4M521.27 265.99h4.4" stroke="#111" stroke-width="0.8" fill="none"/>
<path d="M542.96 252.09V253.66M540.76 252.09h4.4M540.76 253.66h4.4" stroke="#111" stroke-width="0.8" fill="none"/>
<path d="M455.3 245.6V355.6M454.3 355.6H552.7" stroke="#555" stroke-width="0.7" fill="none"/>
<path d="M453.3 355.6h2M454.3 347.74h1M453.3 339.89h2M454.3 332.03h1M453.3 324.17h2M454.3 316.31h1M453.3 308.46h2M454.3 300.6h1M453.3 292.74h2M454.3 284.89h1M453.3 277.03h2M454.3 269.17h1M453.3 261.31h2M454.3 253.46h1M453.3 245.6h2" stroke="#333" stroke-width="0.8" fill="none"/>
<text class="tk" transform="translate(452.3 358) scale(0.92 1)">36</text>
<text class="tk" transform="translate(452.3 342.29) scale(0.92 1)">42</text>
<text class="tk" transform="translate(452.3 326.57) scale(0.92 1)">48</text>
<text class="tk" transform="translate(452.3 310.86) scale(0.92 1)">54</text>
<text class="tk" transform="translate(452.3 295.14) scale(0.92 1)">60</text>
<text class="tk" transform="translate(452.3 279.43) scale(0.92 1)">66</text>
<text class="tk" transform="translate(452.3 263.71) scale(0.92 1)">72</text>
<text class="tk" transform="translate(452.3 248) scale(0.92 1)">78</text>
<text class="ti" style="font-size:8.1px" transform="translate(443.03 304.1) rotate(-90)">Phase-level Recall</text>
<path d="M523.47 262.74V248.22H542.96V249.89" stroke="#2a2a2a" stroke-width="0.85" fill="none"/>
<polygon points="529.47,242.6 529.96,243.71 531.18,243.84 530.27,244.66 530.52,245.85 529.47,245.25 528.41,245.85 528.66,244.66 527.75,243.84 528.97,243.71" fill="#222"/>
<polygon points="533.22,242.6 533.71,243.71 534.93,243.84 534.02,244.66 534.27,245.85 533.22,245.25 532.16,245.85 532.41,244.66 531.5,243.84 532.72,243.71" fill="#222"/>
<polygon points="536.97,242.6 537.46,243.71 538.68,243.84 537.77,244.66 538.02,245.85 536.97,245.25 535.91,245.85 536.16,244.66 535.25,243.84 536.47,243.71" fill="#222"/>
<rect x="590.7" y="349.23" width="11.4" height="6.37" fill="#d9dec2" stroke="#2a2a2a" stroke-width="0.6"/>
<rect x="610.31" y="293.59" width="11.4" height="62.01" fill="#acdda2" stroke="#2a2a2a" stroke-width="0.6"/>
<rect x="629.92" y="285.67" width="11.4" height="69.93" fill="#66c3a5" stroke="#2a2a2a" stroke-width="0.6"/>
<rect x="649.53" y="266.24" width="11.4" height="89.36" fill="#3487bd" stroke="#2a2a2a" stroke-width="0.6"/>
<rect x="669.14" y="253.66" width="11.4" height="101.94" fill="#5c53a3" stroke="#2a2a2a" stroke-width="0.6"/>
<path d="M596.4 347.21V351.25M594.2 347.21h4.4M594.2 351.25h4.4" stroke="#111" stroke-width="0.8" fill="none"/>
<path d="M616.01 293.11V294.08M613.81 293.11h4.4M613.81 294.08h4.4" stroke="#111" stroke-width="0.8" fill="none"/>
<path d="M635.62 284.94V286.4M633.42 284.94h4.4M633.42 286.4h4.4" stroke="#111" stroke-width="0.8" fill="none"/>
<path d="M655.23 265.75V266.73M653.03 265.75h4.4M653.03 266.73h4.4" stroke="#111" stroke-width="0.8" fill="none"/>
<path d="M674.84 252.68V254.63M672.64 252.68h4.4M672.64 254.63h4.4" stroke="#111" stroke-width="0.8" fill="none"/>
<path d="M586.5 245.6V355.6M585.5 355.6H684.6" stroke="#555" stroke-width="0.7" fill="none"/>
<path d="M584.5 355.6h2M585.5 349.49h1M584.5 343.38h2M585.5 337.27h1M584.5 331.16h2M585.5 325.04h1M584.5 318.93h2M585.5 312.82h1M584.5 306.71h2M585.5 300.6h1M584.5 294.49h2M585.5 288.38h1M584.5 282.27h2M585.5 276.16h1M584.5 270.04h2M585.5 263.93h1M584.5 257.82h2M585.5 251.71h1M584.5 245.6h2" stroke="#333" stroke-width="0.8" fill="none"/>
<text class="tk" transform="translate(584 358) scale(0.92 1)">25</text>
<text class="tk" transform="translate(584 345.78) scale(0.92 1)">30</text>
<text class="tk" transform="translate(584 333.56) scale(0.92 1)">35</text>
<text class="tk" transform="translate(584 321.33) scale(0.92 1)">40</text>
<text class="tk" transform="translate(584 309.11) scale(0.92 1)">45</text>
<text class="tk" transform="translate(584 296.89) scale(0.92 1)">50</text>
<text class="tk" transform="translate(584 284.67) scale(0.92 1)">55</text>
<text class="tk" transform="translate(584 272.44) scale(0.92 1)">60</text>
<text class="tk" transform="translate(584 260.22) scale(0.92 1)">65</text>
<text class="tk" transform="translate(584 248) scale(0.92 1)">70</text>
<text class="ti" style="font-size:8px" transform="translate(574.56 304.1) rotate(-90)">Phase-level Jaccard</text>
<path d="M655.23 263.55V248.22H674.84V250.48" stroke="#2a2a2a" stroke-width="0.85" fill="none"/>
<polygon points="661.28,242.6 661.78,243.71 663,243.84 662.09,244.66 662.34,245.85 661.28,245.25 660.23,245.85 660.48,244.66 659.57,243.84 660.79,243.71" fill="#222"/>
<polygon points="665.03,242.6 665.53,243.71 666.75,243.84 665.84,244.66 666.09,245.85 665.03,245.25 663.98,245.85 664.23,244.66 663.32,243.84 664.54,243.71" fill="#222"/>
<polygon points="668.78,242.6 669.28,243.71 670.5,243.84 669.59,244.66 669.84,245.85 668.78,245.25 667.73,245.85 667.98,244.66 667.07,243.84 668.29,243.71" fill="#222"/>
<rect x="63.7" y="469.59" width="11.4" height="9.31" fill="#d9dec2" stroke="#2a2a2a" stroke-width="0.6"/>
<rect x="83.3" y="401.36" width="11.4" height="77.54" fill="#acdda2" stroke="#2a2a2a" stroke-width="0.6"/>
<rect x="102.9" y="394.68" width="11.4" height="84.22" fill="#66c3a5" stroke="#2a2a2a" stroke-width="0.6"/>
<rect x="122.5" y="403.85" width="11.4" height="75.05" fill="#3487bd" stroke="#2a2a2a" stroke-width="0.6"/>
<rect x="142.1" y="378.36" width="11.4" height="100.54" fill="#5c53a3" stroke="#2a2a2a" stroke-width="0.6"/>
<path d="M69.4 468.02V471.16M67.2 468.02h4.4M67.2 471.16h4.4" stroke="#111" stroke-width="0.8" fill="none"/>
<path d="M89 400.42V402.31M86.8 400.42h4.4M86.8 402.31h4.4" stroke="#111" stroke-width="0.8" fill="none"/>
<path d="M108.6 393.74V395.63M106.4 393.74h4.4M106.4 395.63h4.4" stroke="#111" stroke-width="0.8" fill="none"/>
<path d="M128.2 402.91V404.79M126 402.91h4.4M126 404.79h4.4" stroke="#111" stroke-width="0.8" fill="none"/>
<path d="M147.8 377.42V379.31M145.6 377.42h4.4M145.6 379.31h4.4" stroke="#111" stroke-width="0.8" fill="none"/>
<path d="M59.4 368.9V478.9M58.4 478.9H157.7" stroke="#555" stroke-width="0.7" fill="none"/>
<path d="M57.4 478.9h2M58.4 471.04h1M57.4 463.19h2M58.4 455.33h1M57.4 447.47h2M58.4 439.61h1M57.4 431.76h2M58.4 423.9h1M57.4 416.04h2M58.4 408.19h1M57.4 400.33h2M58.4 392.47h1M57.4 384.61h2M58.4 376.76h1M57.4 368.9h2" stroke="#333" stroke-width="0.8" fill="none"/>
<text class="tk" transform="translate(57 481.3) scale(0.92 1)">50</text>
<text class="tk" transform="translate(57 465.59) scale(0.92 1)">55</text>
<text class="tk" transform="translate(57 449.87) scale(0.92 1)">60</text>
<text class="tk" transform="translate(57 434.16) scale(0.92 1)">65</text>
<text class="tk" transform="translate(57 418.44) scale(0.92 1)">70</text>
<text class="tk" transform="translate(57 402.73) scale(0.92 1)">75</text>
<text class="tk" transform="translate(57 387.01) scale(0.92 1)">80</text>
<text class="tk" transform="translate(57 371.3) scale(0.92 1)">85</text>
<text class="ti" style="font-size:7.99px" transform="translate(47.7 427.4) rotate(-90)">Image-level Accuracy</text>
<path d="M108.6 391.54V371.22H147.8V375.22" stroke="#2a2a2a" stroke-width="0.85" fill="none"/>
<polygon points="124.45,365.6 124.95,366.71 126.16,366.84 125.26,367.66 125.51,368.85 124.45,368.25 123.39,368.85 123.64,367.66 122.74,366.84 123.95,366.71" fill="#222"/>
<polygon points="128.2,365.6 128.7,366.71 129.91,366.84 129.01,367.66 129.26,368.85 128.2,368.25 127.14,368.85 127.39,367.66 126.49,366.84 127.7,366.71" fill="#222"/>
<polygon points="131.95,365.6 132.45,366.71 133.66,366.84 132.76,367.66 133.01,368.85 131.95,368.25 130.89,368.85 131.14,367.66 130.24,366.84 131.45,366.71" fill="#222"/>
<rect x="195.7" y="459.33" width="11.4" height="19.57" fill="#d9dec2" stroke="#2a2a2a" stroke-width="0.6"/>
<rect x="215.25" y="398.41" width="11.4" height="80.49" fill="#acdda2" stroke="#2a2a2a" stroke-width="0.6"/>
<rect x="234.8" y="393.91" width="11.4" height="84.99" fill="#66c3a5" stroke="#2a2a2a" stroke-width="0.6"/>
<rect x="254.35" y="397.32" width="11.4" height="81.58" fill="#3487bd" stroke="#2a2a2a" stroke-width="0.6"/>
<rect x="273.9" y="381.16" width="11.4" height="97.74" fill="#5c53a3" stroke="#2a2a2a" stroke-width="0.6"/>
<path d="M201.4 458.23V460.43M199.2 458.23h4.4M199.2 460.43h4.4" stroke="#111" stroke-width="0.8" fill="none"/>
<path d="M220.95 397.59V399.24M218.75 397.59h4.4M218.75 399.24h4.4" stroke="#111" stroke-width="0.8" fill="none"/>
<path d="M240.5 393.36V394.46M238.3 393.36h4.4M238.3 394.46h4.4" stroke="#111" stroke-width="0.8" fill="none"/>
<path d="M260.05 396.5V398.15M257.85 396.5h4.4M257.85 398.15h4.4" stroke="#111" stroke-width="0.8" fill="none"/>
<path d="M279.6 380.34V381.99M277.4 380.34h4.4M277.4 381.99h4.4" stroke="#111" stroke-width="0.8" fill="none"/>
<path d="M191.4 368.9V478.9M190.4 478.9H289.05" stroke="#555" stroke-width="0.7" fill="none"/>
<path d="M189.4 478.9h2M190.4 472.02h1M189.4 465.15h2M190.4 458.27h1M189.4 451.4h2M190.4 444.52h1M189.4 437.65h2M190.4 430.77h1M189.4 423.9h2M190.4 417.02h1M189.4 410.15h2M190.4 403.27h1M189.4 396.4h2M190.4 389.52h1M189.4 382.65h2M190.4 375.77h1M189.4 368.9h2" stroke="#333" stroke-width="0.8" fill="none"/>
<text class="tk" transform="translate(188.3 481.3) scale(0.92 1)">50</text>
<text class="tk" transform="translate(188.3 467.55) scale(0.92 1)">55</text>
<text class="tk" transform="translate(188.3 453.8) scale(0.92 1)">60</text>
<text class="tk" transform="translate(188.3 440.05) scale(0.92 1)">65</text>
<text class="tk" transform="translate(188.3 426.3) scale(0.92 1)">70</text>
<text class="tk" transform="translate(188.3 412.55) scale(0.92 1)">75</text>
<text class="tk" transform="translate(188.3 398.8) scale(0.92 1)">80</text>
<text class="tk" transform="translate(188.3 385.05) scale(0.92 1)">85</text>
<text class="tk" transform="translate(188.3 371.3) scale(0.92 1)">90</text>
<text class="ti" style="font-size:7.88px" transform="translate(179.47 427.4) rotate(-90)">Video-level Accuracy</text>
<path d="M240.5 391.16V373.08H279.6V378.14" stroke="#2a2a2a" stroke-width="0.85" fill="none"/>
<polygon points="256.3,366.69 256.8,367.8 258.01,367.93 257.11,368.75 257.36,369.94 256.3,369.34 255.24,369.94 255.49,368.75 254.59,367.93 255.8,367.8" fill="#222"/>
<polygon points="260.05,366.69 260.55,367.8 261.76,367.93 260.86,368.75 261.11,369.94 260.05,369.34 258.99,369.94 259.24,368.75 258.34,367.93 259.55,367.8" fill="#222"/>
<polygon points="263.8,366.69 264.3,367.8 265.51,367.93 264.61,368.75 264.86,369.94 263.8,369.34 262.74,369.94 262.99,368.75 262.09,367.93 263.3,367.8" fill="#222"/>
<rect x="327.55" y="469.9" width="11.4" height="9" fill="#d9dec2" stroke="#2a2a2a" stroke-width="0.6"/>
<rect x="347.01" y="403.85" width="11.4" height="75.05" fill="#acdda2" stroke="#2a2a2a" stroke-width="0.6"/>
<rect x="366.47" y="409.29" width="11.4" height="69.61" fill="#66c3a5" stroke="#2a2a2a" stroke-width="0.6"/>
<rect x="385.93" y="413.18" width="11.4" height="65.72" fill="#3487bd" stroke="#2a2a2a" stroke-width="0.6"/>
<rect x="405.39" y="376.97" width="11.4" height="101.93" fill="#5c53a3" stroke="#2a2a2a" stroke-width="0.6"/>
<path d="M333.25 469.35V470.45M331.05 469.35h4.4M331.05 470.45h4.4" stroke="#111" stroke-width="0.8" fill="none"/>
<path d="M352.71 403.3V404.4M350.51 403.3h4.4M350.51 404.4h4.4" stroke="#111" stroke-width="0.8" fill="none"/>
<path d="M372.17 408.74V409.84M369.97 408.74h4.4M369.97 409.84h4.4" stroke="#111" stroke-width="0.8" fill="none"/>
<path d="M391.63 412.81V413.54M389.43 412.81h4.4M389.43 413.54h4.4" stroke="#111" stroke-width="0.8" fill="none"/>
<path d="M411.09 376.6V377.33M408.89 376.6h4.4M408.89 377.33h4.4" stroke="#111" stroke-width="0.8" fill="none"/>
<path d="M323.4 368.9V478.9M322.4 478.9H420.9" stroke="#555" stroke-width="0.7" fill="none"/>
<path d="M321.4 478.9h2M322.4 469.73h1M321.4 460.57h2M322.4 451.4h1M321.4 442.23h2M322.4 433.07h1M321.4 423.9h2M322.4 414.73h1M321.4 405.57h2M322.4 396.4h1M321.4 387.23h2M322.4 378.07h1M321.4 368.9h2" stroke="#333" stroke-width="0.8" fill="none"/>
<text class="tk" transform="translate(320.3 481.3) scale(0.92 1)">20</text>
<text class="tk" transform="translate(320.3 462.97) scale(0.92 1)">30</text>
<text class="tk" transform="translate(320.3 444.63) scale(0.92 1)">40</text>
<text class="tk" transform="translate(320.3 426.3) scale(0.92 1)">50</text>
<text class="tk" transform="translate(320.3 407.97) scale(0.92 1)">60</text>
<text class="tk" transform="translate(320.3 389.63) scale(0.92 1)">70</text>
<text class="tk" transform="translate(320.3 371.3) scale(0.92 1)">80</text>
<text class="ti" style="font-size:7.86px" transform="translate(311.11 427.4) rotate(-90)">Phase-level Precision</text>
<path d="M352.71 401.1V371.99H411.09V374.4" stroke="#2a2a2a" stroke-width="0.85" fill="none"/>
<polygon points="378.15,365.91 378.65,367.02 379.86,367.15 378.96,367.97 379.21,369.16 378.15,368.56 377.09,369.16 377.34,367.97 376.44,367.15 377.65,367.02" fill="#222"/>
<polygon points="381.9,365.91 382.4,367.02 383.61,367.15 382.71,367.97 382.96,369.16 381.9,368.56 380.84,369.16 381.09,367.97 380.19,367.15 381.4,367.02" fill="#222"/>
<polygon points="385.65,365.91 386.15,367.02 387.36,367.15 386.46,367.97 386.71,369.16 385.65,368.56 384.59,369.16 384.84,367.97 383.94,367.15 385.15,367.02" fill="#222"/>
<rect x="459.3" y="465.24" width="11.4" height="13.66" fill="#d9dec2" stroke="#2a2a2a" stroke-width="0.6"/>
<rect x="478.79" y="401.52" width="11.4" height="77.38" fill="#acdda2" stroke="#2a2a2a" stroke-width="0.6"/>
<rect x="498.28" y="413.33" width="11.4" height="65.57" fill="#66c3a5" stroke="#2a2a2a" stroke-width="0.6"/>
<rect x="517.77" y="410.07" width="11.4" height="68.83" fill="#3487bd" stroke="#2a2a2a" stroke-width="0.6"/>
<rect x="537.26" y="379.3" width="11.4" height="99.6" fill="#5c53a3" stroke="#2a2a2a" stroke-width="0.6"/>
<path d="M465 464.84V465.64M462.8 464.84h4.4M462.8 465.64h4.4" stroke="#111" stroke-width="0.8" fill="none"/>
<path d="M484.49 400.72V402.32M482.29 400.72h4.4M482.29 402.32h4.4" stroke="#111" stroke-width="0.8" fill="none"/>
<path d="M503.98 412.73V413.93M501.78 412.73h4.4M501.78 413.93h4.4" stroke="#111" stroke-width="0.8" fill="none"/>
<path d="M523.47 409.67V410.47M521.27 409.67h4.4M521.27 410.47h4.4" stroke="#111" stroke-width="0.8" fill="none"/>
<path d="M542.96 378.7V379.9M540.76 378.7h4.4M540.76 379.9h4.4" stroke="#111" stroke-width="0.8" fill="none"/>
<path d="M455.3 368.9V478.9M454.3 478.9H552.7" stroke="#555" stroke-width="0.7" fill="none"/>
<path d="M453.3 478.9h2M454.3 473.9h1M453.3 468.9h2M454.3 463.9h1M453.3 458.9h2M454.3 453.9h1M453.3 448.9h2M454.3 443.9h1M453.3 438.9h2M454.3 433.9h1M453.3 428.9h2M454.3 423.9h1M453.3 418.9h2M454.3 413.9h1M453.3 408.9h2M454.3 403.9h1M453.3 398.9h2M454.3 393.9h1M453.3 388.9h2M454.3 383.9h1M453.3 378.9h2M454.3 373.9h1M453.3 368.9h2" stroke="#333" stroke-width="0.8" fill="none"/>
<text class="tk" transform="translate(452.3 481.3) scale(0.92 1)">20</text>
<text class="tk" transform="translate(452.3 471.3) scale(0.92 1)">25</text>
<text class="tk" transform="translate(452.3 461.3) scale(0.92 1)">30</text>
<text class="tk" transform="translate(452.3 451.3) scale(0.92 1)">35</text>
<text class="tk" transform="translate(452.3 441.3) scale(0.92 1)">40</text>
<text class="tk" transform="translate(452.3 431.3) scale(0.92 1)">45</text>
<text class="tk" transform="translate(452.3 421.3) scale(0.92 1)">50</text>
<text class="tk" transform="translate(452.3 411.3) scale(0.92 1)">55</text>
<text class="tk" transform="translate(452.3 401.3) scale(0.92 1)">60</text>
<text class="tk" transform="translate(452.3 391.3) scale(0.92 1)">65</text>
<text class="tk" transform="translate(452.3 381.3) scale(0.92 1)">70</text>
<text class="tk" transform="translate(452.3 371.3) scale(0.92 1)">75</text>
<text class="ti" style="font-size:8.1px" transform="translate(443.03 427.4) rotate(-90)">Phase-level Recall</text>
<path d="M484.49 398.52V373.08H542.96V376.5" stroke="#2a2a2a" stroke-width="0.85" fill="none"/>
<polygon points="509.98,366.22 510.47,367.33 511.69,367.46 510.78,368.28 511.03,369.48 509.98,368.87 508.92,369.48 509.17,368.28 508.26,367.46 509.48,367.33" fill="#222"/>
<polygon points="513.73,366.22 514.22,367.33 515.44,367.46 514.53,368.28 514.78,369.48 513.73,368.87 512.67,369.48 512.92,368.28 512.01,367.46 513.23,367.33" fill="#222"/>
<polygon points="517.48,366.22 517.97,367.33 519.19,367.46 518.28,368.28 518.53,369.48 517.48,368.87 516.42,369.48 516.67,368.28 515.76,367.46 516.98,367.33" fill="#222"/>
<rect x="590.7" y="466.28" width="11.4" height="8.32" fill="#d9dec2" stroke="#2a2a2a" stroke-width="0.6"/>
<rect x="610.31" y="406.29" width="11.4" height="68.31" fill="#acdda2" stroke="#2a2a2a" stroke-width="0.6"/>
<rect x="629.92" y="412.51" width="11.4" height="62.09" fill="#66c3a5" stroke="#2a2a2a" stroke-width="0.6"/>
<rect x="649.53" y="413.91" width="11.4" height="60.69" fill="#3487bd" stroke="#2a2a2a" stroke-width="0.6"/>
<rect x="669.14" y="377.39" width="11.4" height="97.21" fill="#5c53a3" stroke="#2a2a2a" stroke-width="0.6"/>
<path d="M596.4 465.88V466.68M594.2 465.88h4.4M594.2 466.68h4.4" stroke="#111" stroke-width="0.8" fill="none"/>
<path d="M616.01 405.49V407.09M613.81 405.49h4.4M613.81 407.09h4.4" stroke="#111" stroke-width="0.8" fill="none"/>
<path d="M635.62 411.91V413.11M633.42 411.91h4.4M633.42 413.11h4.4" stroke="#111" stroke-width="0.8" fill="none"/>
<path d="M655.23 413.51V414.31M653.03 413.51h4.4M653.03 414.31h4.4" stroke="#111" stroke-width="0.8" fill="none"/>
<path d="M674.84 376.59V378.19M672.64 376.59h4.4M672.64 378.19h4.4" stroke="#111" stroke-width="0.8" fill="none"/>
<path d="M586.5 364.6V474.6M585.5 474.6H684.6" stroke="#555" stroke-width="0.7" fill="none"/>
<path d="M584.5 474.6h2M585.5 469.6h1M584.5 464.6h2M585.5 459.6h1M584.5 454.6h2M585.5 449.6h1M584.5 444.6h2M585.5 439.6h1M584.5 434.6h2M585.5 429.6h1M584.5 424.6h2M585.5 419.6h1M584.5 414.6h2M585.5 409.6h1M584.5 404.6h2M585.5 399.6h1M584.5 394.6h2M585.5 389.6h1M584.5 384.6h2M585.5 379.6h1M584.5 374.6h2M585.5 369.6h1M584.5 364.6h2" stroke="#333" stroke-width="0.8" fill="none"/>
<text class="tk" transform="translate(584 477) scale(0.92 1)">15</text>
<text class="tk" transform="translate(584 467) scale(0.92 1)">20</text>
<text class="tk" transform="translate(584 457) scale(0.92 1)">25</text>
<text class="tk" transform="translate(584 447) scale(0.92 1)">30</text>
<text class="tk" transform="translate(584 437) scale(0.92 1)">35</text>
<text class="tk" transform="translate(584 427) scale(0.92 1)">40</text>
<text class="tk" transform="translate(584 417) scale(0.92 1)">45</text>
<text class="tk" transform="translate(584 407) scale(0.92 1)">50</text>
<text class="tk" transform="translate(584 397) scale(0.92 1)">55</text>
<text class="tk" transform="translate(584 387) scale(0.92 1)">60</text>
<text class="tk" transform="translate(584 377) scale(0.92 1)">65</text>
<text class="tk" transform="translate(584 367) scale(0.92 1)">70</text>
<text class="ti" style="font-size:8px" transform="translate(574.56 423.1) rotate(-90)">Phase-level Jaccard</text>
<path d="M616.01 403.29V369.3H674.84V374.39" stroke="#2a2a2a" stroke-width="0.85" fill="none"/>
<polygon points="641.67,362.6 642.17,363.71 643.39,363.84 642.48,364.66 642.73,365.85 641.67,365.25 640.62,365.85 640.87,364.66 639.96,363.84 641.18,363.71" fill="#222"/>
<polygon points="645.42,362.6 645.92,363.71 647.14,363.84 646.23,364.66 646.48,365.85 645.42,365.25 644.37,365.85 644.62,364.66 643.71,363.84 644.93,363.71" fill="#222"/>
<polygon points="649.17,362.6 649.67,363.71 650.89,363.84 649.98,364.66 650.23,365.85 649.17,365.25 648.12,365.85 648.37,364.66 647.46,363.84 648.68,363.71" fill="#222"/>
<rect x="63.7" y="587.48" width="11.4" height="12.12" fill="#d9dec2" stroke="#2a2a2a" stroke-width="0.6"/>
<rect x="83.3" y="528.43" width="11.4" height="71.17" fill="#acdda2" stroke="#2a2a2a" stroke-width="0.6"/>
<rect x="102.9" y="530.45" width="11.4" height="69.15" fill="#66c3a5" stroke="#2a2a2a" stroke-width="0.6"/>
<rect x="122.5" y="528.11" width="11.4" height="71.49" fill="#3487bd" stroke="#2a2a2a" stroke-width="0.6"/>
<rect x="142.1" y="496.72" width="11.4" height="102.88" fill="#5c53a3" stroke="#2a2a2a" stroke-width="0.6"/>
<path d="M69.4 586.3V588.66M67.2 586.3h4.4M67.2 588.66h4.4" stroke="#111" stroke-width="0.8" fill="none"/>
<path d="M89 527.64V529.21M86.8 527.64h4.4M86.8 529.21h4.4" stroke="#111" stroke-width="0.8" fill="none"/>
<path d="M108.6 529.66V531.23M106.4 529.66h4.4M106.4 531.23h4.4" stroke="#111" stroke-width="0.8" fill="none"/>
<path d="M128.2 526.94V529.29M126 526.94h4.4M126 529.29h4.4" stroke="#111" stroke-width="0.8" fill="none"/>
<path d="M147.8 496.33V497.12M145.6 496.33h4.4M145.6 497.12h4.4" stroke="#111" stroke-width="0.8" fill="none"/>
<path d="M59.4 489.6V599.6M58.4 599.6H157.7" stroke="#555" stroke-width="0.7" fill="none"/>
<path d="M57.4 599.6h2M58.4 591.74h1M57.4 583.89h2M58.4 576.03h1M57.4 568.17h2M58.4 560.31h1M57.4 552.46h2M58.4 544.6h1M57.4 536.74h2M58.4 528.89h1M57.4 521.03h2M58.4 513.17h1M57.4 505.31h2M58.4 497.46h1M57.4 489.6h2" stroke="#333" stroke-width="0.8" fill="none"/>
<text class="tk" transform="translate(57 602) scale(0.92 1)">68</text>
<text class="tk" transform="translate(57 586.29) scale(0.92 1)">72</text>
<text class="tk" transform="translate(57 570.57) scale(0.92 1)">76</text>
<text class="tk" transform="translate(57 554.86) scale(0.92 1)">80</text>
<text class="tk" transform="translate(57 539.14) scale(0.92 1)">84</text>
<text class="tk" transform="translate(57 523.43) scale(0.92 1)">88</text>
<text class="tk" transform="translate(57 507.71) scale(0.92 1)">92</text>
<text class="tk" transform="translate(57 492) scale(0.92 1)">96</text>
<text class="ti" style="font-size:7.99px" transform="translate(47.7 548.1) rotate(-90)">Image-level Accuracy</text>
<path d="M128.2 524.74V493.3H147.8V494.13" stroke="#2a2a2a" stroke-width="0.85" fill="none"/>
<polygon points="134.25,487.22 134.75,488.33 135.96,488.46 135.06,489.28 135.31,490.48 134.25,489.87 133.19,490.48 133.44,489.28 132.54,488.46 133.75,488.33" fill="#222"/>
<polygon points="138,487.22 138.5,488.33 139.71,488.46 138.81,489.28 139.06,490.48 138,489.87 136.94,490.48 137.19,489.28 136.29,488.46 137.5,488.33" fill="#222"/>
<polygon points="141.75,487.22 142.25,488.33 143.46,488.46 142.56,489.28 142.81,490.48 141.75,489.87 140.69,490.48 140.94,489.28 140.04,488.46 141.25,488.33" fill="#222"/>
<rect x="195.7" y="589.81" width="11.4" height="9.79" fill="#d9dec2" stroke="#2a2a2a" stroke-width="0.6"/>
<rect x="215.25" y="528.89" width="11.4" height="70.71" fill="#acdda2" stroke="#2a2a2a" stroke-width="0.6"/>
<rect x="234.8" y="534.33" width="11.4" height="65.27" fill="#66c3a5" stroke="#2a2a2a" stroke-width="0.6"/>
<rect x="254.35" y="526.41" width="11.4" height="73.19" fill="#3487bd" stroke="#2a2a2a" stroke-width="0.6"/>
<rect x="273.9" y="495.48" width="11.4" height="104.12" fill="#5c53a3" stroke="#2a2a2a" stroke-width="0.6"/>
<path d="M201.4 588.44V591.19M199.2 588.44h4.4M199.2 591.19h4.4" stroke="#111" stroke-width="0.8" fill="none"/>
<path d="M220.95 527.52V530.27M218.75 527.52h4.4M218.75 530.27h4.4" stroke="#111" stroke-width="0.8" fill="none"/>
<path d="M240.5 533.41V535.25M238.3 533.41h4.4M238.3 535.25h4.4" stroke="#111" stroke-width="0.8" fill="none"/>
<path d="M260.05 525.95V526.86M257.85 525.95h4.4M257.85 526.86h4.4" stroke="#111" stroke-width="0.8" fill="none"/>
<path d="M279.6 494.56V496.4M277.4 494.56h4.4M277.4 496.4h4.4" stroke="#111" stroke-width="0.8" fill="none"/>
<path d="M191.4 489.6V599.6M190.4 599.6H289.05" stroke="#555" stroke-width="0.7" fill="none"/>
<path d="M189.4 599.6h2M190.4 585.85h1M189.4 572.1h2M190.4 558.35h1M189.4 544.6h2M190.4 530.85h1M189.4 517.1h2M190.4 503.35h1M189.4 489.6h2" stroke="#333" stroke-width="0.8" fill="none"/>
<text class="tk" transform="translate(188.3 602) scale(0.92 1)">72</text>
<text class="tk" transform="translate(188.3 574.5) scale(0.92 1)">78</text>
<text class="tk" transform="translate(188.3 547) scale(0.92 1)">84</text>
<text class="tk" transform="translate(188.3 519.5) scale(0.92 1)">90</text>
<text class="tk" transform="translate(188.3 492) scale(0.92 1)">96</text>
<text class="ti" style="font-size:7.88px" transform="translate(179.47 548.1) rotate(-90)">Video-level Accuracy</text>
<path d="M260.05 523.75V491.91H279.6V492.36" stroke="#2a2a2a" stroke-width="0.85" fill="none"/>
<polygon points="266.08,486.6 266.57,487.71 267.79,487.84 266.88,488.66 267.13,489.85 266.08,489.25 265.02,489.85 265.27,488.66 264.36,487.84 265.58,487.71" fill="#222"/>
<polygon points="269.83,486.6 270.32,487.71 271.54,487.84 270.63,488.66 270.88,489.85 269.83,489.25 268.77,489.85 269.02,488.66 268.11,487.84 269.33,487.71" fill="#222"/>
<polygon points="273.58,486.6 274.07,487.71 275.29,487.84 274.38,488.66 274.63,489.85 273.58,489.25 272.52,489.85 272.77,488.66 271.86,487.84 273.08,487.71" fill="#222"/>
<rect x="327.55" y="586.55" width="11.4" height="13.05" fill="#d9dec2" stroke="#2a2a2a" stroke-width="0.6"/>
<rect x="347.01" y="537.44" width="11.4" height="62.16" fill="#acdda2" stroke="#2a2a2a" stroke-width="0.6"/>
<rect x="366.47" y="540.55" width="11.4" height="59.05" fill="#66c3a5" stroke="#2a2a2a" stroke-width="0.6"/>
<rect x="385.93" y="534.02" width="11.4" height="65.58" fill="#3487bd" stroke="#2a2a2a" stroke-width="0.6"/>
<rect x="405.39" y="504.18" width="11.4" height="95.42" fill="#5c53a3" stroke="#2a2a2a" stroke-width="0.6"/>
<path d="M333.25 584.26V588.84M331.05 584.26h4.4M331.05 588.84h4.4" stroke="#111" stroke-width="0.8" fill="none"/>
<path d="M352.71 535.61V539.27M350.51 535.61h4.4M350.51 539.27h4.4" stroke="#111" stroke-width="0.8" fill="none"/>
<path d="M372.17 539.17V541.92M369.97 539.17h4.4M369.97 541.92h4.4" stroke="#111" stroke-width="0.8" fill="none"/>
<path d="M391.63 532.65V535.4M389.43 532.65h4.4M389.43 535.4h4.4" stroke="#111" stroke-width="0.8" fill="none"/>
<path d="M411.09 502.81V505.56M408.89 502.81h4.4M408.89 505.56h4.4" stroke="#111" stroke-width="0.8" fill="none"/>
<path d="M323.4 489.6V599.6M322.4 599.6H420.9" stroke="#555" stroke-width="0.7" fill="none"/>
<path d="M321.4 599.6h2M322.4 585.85h1M321.4 572.1h2M322.4 558.35h1M321.4 544.6h2M322.4 530.85h1M321.4 517.1h2M322.4 503.35h1M321.4 489.6h2" stroke="#333" stroke-width="0.8" fill="none"/>
<text class="tk" transform="translate(320.3 602) scale(0.92 1)">72</text>
<text class="tk" transform="translate(320.3 574.5) scale(0.92 1)">78</text>
<text class="tk" transform="translate(320.3 547) scale(0.92 1)">84</text>
<text class="tk" transform="translate(320.3 519.5) scale(0.92 1)">90</text>
<text class="tk" transform="translate(320.3 492) scale(0.92 1)">96</text>
<text class="ti" style="font-size:7.86px" transform="translate(311.11 548.1) rotate(-90)">Phase-level Precision</text>
<path d="M391.63 530.45V496.41H411.09V500.61" stroke="#2a2a2a" stroke-width="0.85" fill="none"/>
<polygon points="397.61,488.93 398.11,490.04 399.32,490.17 398.42,490.99 398.67,492.18 397.61,491.58 396.55,492.18 396.8,490.99 395.9,490.17 397.11,490.04" fill="#222"/>
<polygon points="401.36,488.93 401.86,490.04 403.07,490.17 402.17,490.99 402.42,492.18 401.36,491.58 400.3,492.18 400.55,490.99 399.65,490.17 400.86,490.04" fill="#222"/>
<polygon points="405.11,488.93 405.61,490.04 406.82,490.17 405.92,490.99 406.17,492.18 405.11,491.58 404.05,492.18 404.3,490.99 403.4,490.17 404.61,490.04" fill="#222"/>
<rect x="459.3" y="587.79" width="11.4" height="11.81" fill="#d9dec2" stroke="#2a2a2a" stroke-width="0.6"/>
<rect x="478.79" y="533.24" width="11.4" height="66.36" fill="#acdda2" stroke="#2a2a2a" stroke-width="0.6"/>
<rect x="498.28" y="529.67" width="11.4" height="69.93" fill="#66c3a5" stroke="#2a2a2a" stroke-width="0.6"/>
<rect x="517.77" y="523.3" width="11.4" height="76.3" fill="#3487bd" stroke="#2a2a2a" stroke-width="0.6"/>
<rect x="537.26" y="495.32" width="11.4" height="104.28" fill="#5c53a3" stroke="#2a2a2a" stroke-width="0.6"/>
<path d="M465 585.59V589.99M462.8 585.59h4.4M462.8 589.99h4.4" stroke="#111" stroke-width="0.8" fill="none"/>
<path d="M484.49 531.92V534.56M482.29 531.92h4.4M482.29 534.56h4.4" stroke="#111" stroke-width="0.8" fill="none"/>
<path d="M503.98 528.35V530.99M501.78 528.35h4.4M501.78 530.99h4.4" stroke="#111" stroke-width="0.8" fill="none"/>
<path d="M523.47 521.98V524.62M521.27 521.98h4.4M521.27 524.62h4.4" stroke="#111" stroke-width="0.8" fill="none"/>
<path d="M542.96 494.44V496.2M540.76 494.44h4.4M540.76 496.2h4.4" stroke="#111" stroke-width="0.8" fill="none"/>
<path d="M455.3 489.6V599.6M454.3 599.6H552.7" stroke="#555" stroke-width="0.7" fill="none"/>
<path d="M453.3 599.6h2M454.3 588.6h1M453.3 577.6h2M454.3 566.6h1M453.3 555.6h2M454.3 544.6h1M453.3 533.6h2M454.3 522.6h1M453.3 511.6h2M454.3 500.6h1M453.3 489.6h2" stroke="#333" stroke-width="0.8" fill="none"/>
<text class="tk" transform="translate(452.3 602) scale(0.92 1)">70</text>
<text class="tk" transform="translate(452.3 580) scale(0.92 1)">75</text>
<text class="tk" transform="translate(452.3 558) scale(0.92 1)">80</text>
<text class="tk" transform="translate(452.3 536) scale(0.92 1)">85</text>
<text class="tk" transform="translate(452.3 514) scale(0.92 1)">90</text>
<text class="tk" transform="translate(452.3 492) scale(0.92 1)">95</text>
<text class="ti" style="font-size:8.1px" transform="translate(443.03 548.1) rotate(-90)">Phase-level Recall</text>
<path d="M523.47 519.78V491.44H542.96V492.24" stroke="#2a2a2a" stroke-width="0.85" fill="none"/>
<polygon points="529.47,486.6 529.96,487.71 531.18,487.84 530.27,488.66 530.52,489.85 529.47,489.25 528.41,489.85 528.66,488.66 527.75,487.84 528.97,487.71" fill="#222"/>
<polygon points="533.22,486.6 533.71,487.71 534.93,487.84 534.02,488.66 534.27,489.85 533.22,489.25 532.16,489.85 532.41,488.66 531.5,487.84 532.72,487.71" fill="#222"/>
<polygon points="536.97,486.6 537.46,487.71 538.68,487.84 537.77,488.66 538.02,489.85 536.97,489.25 535.91,489.85 536.16,488.66 535.25,487.84 536.47,487.71" fill="#222"/>
<rect x="590.7" y="586.39" width="11.4" height="13.21" fill="#d9dec2" stroke="#2a2a2a" stroke-width="0.6"/>
<rect x="610.31" y="537.44" width="11.4" height="62.16" fill="#acdda2" stroke="#2a2a2a" stroke-width="0.6"/>
<rect x="629.92" y="537.44" width="11.4" height="62.16" fill="#66c3a5" stroke="#2a2a2a" stroke-width="0.6"/>
<rect x="649.53" y="531.22" width="11.4" height="68.38" fill="#3487bd" stroke="#2a2a2a" stroke-width="0.6"/>
<rect x="669.14" y="497.19" width="11.4" height="102.41" fill="#5c53a3" stroke="#2a2a2a" stroke-width="0.6"/>
<path d="M596.4 585.17V587.61M594.2 585.17h4.4M594.2 587.61h4.4" stroke="#111" stroke-width="0.8" fill="none"/>
<path d="M616.01 536.52V538.36M613.81 536.52h4.4M613.81 538.36h4.4" stroke="#111" stroke-width="0.8" fill="none"/>
<path d="M635.62 536.22V538.66M633.42 536.22h4.4M633.42 538.66h4.4" stroke="#111" stroke-width="0.8" fill="none"/>
<path d="M655.23 530V532.45M653.03 530h4.4M653.03 532.45h4.4" stroke="#111" stroke-width="0.8" fill="none"/>
<path d="M674.84 496.27V498.11M672.64 496.27h4.4M672.64 498.11h4.4" stroke="#111" stroke-width="0.8" fill="none"/>
<path d="M586.5 489.6V599.6M585.5 599.6H684.6" stroke="#555" stroke-width="0.7" fill="none"/>
<path d="M584.5 599.6h2M585.5 590.43h1M584.5 581.27h2M585.5 572.1h1M584.5 562.93h2M585.5 553.77h1M584.5 544.6h2M585.5 535.43h1M584.5 526.27h2M585.5 517.1h1M584.5 507.93h2M585.5 498.77h1M584.5 489.6h2" stroke="#333" stroke-width="0.8" fill="none"/>
<text class="tk" transform="translate(584 602) scale(0.92 1)">54</text>
<text class="tk" transform="translate(584 583.67) scale(0.92 1)">60</text>
<text class="tk" transform="translate(584 565.33) scale(0.92 1)">66</text>
<text class="tk" transform="translate(584 547) scale(0.92 1)">72</text>
<text class="tk" transform="translate(584 528.67) scale(0.92 1)">78</text>
<text class="tk" transform="translate(584 510.33) scale(0.92 1)">84</text>
<text class="tk" transform="translate(584 492) scale(0.92 1)">90</text>
<text class="ti" style="font-size:8px" transform="translate(574.56 548.1) rotate(-90)">Phase-level Jaccard</text>
<path d="M655.23 527.8V492.53H674.84V494.07" stroke="#2a2a2a" stroke-width="0.85" fill="none"/>
<polygon points="661.28,486.91 661.78,488.02 663,488.15 662.09,488.97 662.34,490.16 661.28,489.56 660.23,490.16 660.48,488.97 659.57,488.15 660.79,488.02" fill="#222"/>
<polygon points="665.03,486.91 665.53,488.02 666.75,488.15 665.84,488.97 666.09,490.16 665.03,489.56 663.98,490.16 664.23,488.97 663.32,488.15 664.54,488.02" fill="#222"/>
<polygon points="668.78,486.91 669.28,488.02 670.5,488.15 669.59,488.97 669.84,490.16 668.78,489.56 667.73,490.16 667.98,488.97 667.07,488.15 668.29,488.02" fill="#222"/>
<rect x="63.7" y="697.45" width="11.4" height="23.15" fill="#d9dec2" stroke="#2a2a2a" stroke-width="0.6"/>
<rect x="83.3" y="638.86" width="11.4" height="81.74" fill="#acdda2" stroke="#2a2a2a" stroke-width="0.6"/>
<rect x="102.9" y="643.99" width="11.4" height="76.61" fill="#66c3a5" stroke="#2a2a2a" stroke-width="0.6"/>
<rect x="122.5" y="651.29" width="11.4" height="69.31" fill="#3487bd" stroke="#2a2a2a" stroke-width="0.6"/>
<rect x="142.1" y="625.03" width="11.4" height="95.57" fill="#5c53a3" stroke="#2a2a2a" stroke-width="0.6"/>
<path d="M69.4 692.16V702.73M67.2 692.16h4.4M67.2 702.73h4.4" stroke="#111" stroke-width="0.8" fill="none"/>
<path d="M89 634.82V642.9M86.8 634.82h4.4M86.8 642.9h4.4" stroke="#111" stroke-width="0.8" fill="none"/>
<path d="M108.6 639.79V648.18M106.4 639.79h4.4M106.4 648.18h4.4" stroke="#111" stroke-width="0.8" fill="none"/>
<path d="M128.2 647.17V655.41M126 647.17h4.4M126 655.41h4.4" stroke="#111" stroke-width="0.8" fill="none"/>
<path d="M147.8 621.53V628.52M145.6 621.53h4.4M145.6 628.52h4.4" stroke="#111" stroke-width="0.8" fill="none"/>
<path d="M59.4 610.6V720.6M58.4 720.6H157.7" stroke="#555" stroke-width="0.7" fill="none"/>
<path d="M57.4 720.6h2M58.4 709.6h1M57.4 698.6h2M58.4 687.6h1M57.4 676.6h2M58.4 665.6h1M57.4 654.6h2M58.4 643.6h1M57.4 632.6h2M58.4 621.6h1M57.4 610.6h2" stroke="#333" stroke-width="0.8" fill="none"/>
<text class="tk" transform="translate(57 723) scale(0.92 1)">66</text>
<text class="tk" transform="translate(57 701) scale(0.92 1)">72</text>
<text class="tk" transform="translate(57 679) scale(0.92 1)">78</text>
<text class="tk" transform="translate(57 657) scale(0.92 1)">84</text>
<text class="tk" transform="translate(57 635) scale(0.92 1)">90</text>
<text class="tk" transform="translate(57 613) scale(0.92 1)">96</text>
<text class="ti" style="font-size:7.99px" transform="translate(47.7 669.1) rotate(-90)">Image-level <tspan font-style="italic">Accuracy</tspan></text>
<path d="M89 632.62V615.55H147.8V619.33" stroke="#2a2a2a" stroke-width="0.85" fill="none"/>
<polygon points="114.65,608.22 115.15,609.33 116.36,609.46 115.46,610.28 115.71,611.48 114.65,610.87 113.59,611.48 113.84,610.28 112.94,609.46 114.15,609.33" fill="#222"/>
<polygon points="118.4,608.22 118.9,609.33 120.11,609.46 119.21,610.28 119.46,611.48 118.4,610.87 117.34,611.48 117.59,610.28 116.69,609.46 117.9,609.33" fill="#222"/>
<polygon points="122.15,608.22 122.65,609.33 123.86,609.46 122.96,610.28 123.21,611.48 122.15,610.87 121.09,611.48 121.34,610.28 120.44,609.46 121.65,609.33" fill="#222"/>
<rect x="195.7" y="694.34" width="11.4" height="26.26" fill="#d9dec2" stroke="#2a2a2a" stroke-width="0.6"/>
<rect x="215.25" y="637.3" width="11.4" height="83.3" fill="#acdda2" stroke="#2a2a2a" stroke-width="0.6"/>
<rect x="234.8" y="645.23" width="11.4" height="75.37" fill="#66c3a5" stroke="#2a2a2a" stroke-width="0.6"/>
<rect x="254.35" y="655.49" width="11.4" height="65.11" fill="#3487bd" stroke="#2a2a2a" stroke-width="0.6"/>
<rect x="273.9" y="625.34" width="11.4" height="95.26" fill="#5c53a3" stroke="#2a2a2a" stroke-width="0.6"/>
<path d="M201.4 689.29V699.39M199.2 689.29h4.4M199.2 699.39h4.4" stroke="#111" stroke-width="0.8" fill="none"/>
<path d="M220.95 633.42V641.19M218.75 633.42h4.4M218.75 641.19h4.4" stroke="#111" stroke-width="0.8" fill="none"/>
<path d="M240.5 641.27V649.19M238.3 641.27h4.4M238.3 649.19h4.4" stroke="#111" stroke-width="0.8" fill="none"/>
<path d="M260.05 651.21V659.76M257.85 651.21h4.4M257.85 659.76h4.4" stroke="#111" stroke-width="0.8" fill="none"/>
<path d="M279.6 622.31V628.37M277.4 622.31h4.4M277.4 628.37h4.4" stroke="#111" stroke-width="0.8" fill="none"/>
<path d="M191.4 610.6V720.6M190.4 720.6H289.05" stroke="#555" stroke-width="0.7" fill="none"/>
<path d="M189.4 720.6h2M190.4 709.6h1M189.4 698.6h2M190.4 687.6h1M189.4 676.6h2M190.4 665.6h1M189.4 654.6h2M190.4 643.6h1M189.4 632.6h2M190.4 621.6h1M189.4 610.6h2" stroke="#333" stroke-width="0.8" fill="none"/>
<text class="tk" transform="translate(188.3 723) scale(0.92 1)">66</text>
<text class="tk" transform="translate(188.3 701) scale(0.92 1)">72</text>
<text class="tk" transform="translate(188.3 679) scale(0.92 1)">78</text>
<text class="tk" transform="translate(188.3 657) scale(0.92 1)">84</text>
<text class="tk" transform="translate(188.3 635) scale(0.92 1)">90</text>
<text class="tk" transform="translate(188.3 613) scale(0.92 1)">96</text>
<text class="ti" style="font-size:7.88px" transform="translate(179.47 669.1) rotate(-90)">Video-level Accuracy</text>
<path d="M220.95 631.22V617.1H279.6V620.11" stroke="#2a2a2a" stroke-width="0.85" fill="none"/>
<polygon points="246.53,608.69 247.02,609.8 248.24,609.93 247.33,610.75 247.58,611.94 246.53,611.34 245.47,611.94 245.72,610.75 244.81,609.93 246.03,609.8" fill="#222"/>
<polygon points="250.28,608.69 250.77,609.8 251.99,609.93 251.08,610.75 251.33,611.94 250.28,611.34 249.22,611.94 249.47,610.75 248.56,609.93 249.78,609.8" fill="#222"/>
<polygon points="254.03,608.69 254.52,609.8 255.74,609.93 254.83,610.75 255.08,611.94 254.03,611.34 252.97,611.94 253.22,610.75 252.31,609.93 253.53,609.8" fill="#222"/>
<rect x="327.55" y="705.53" width="11.4" height="15.07" fill="#d9dec2" stroke="#2a2a2a" stroke-width="0.6"/>
<rect x="347.01" y="637.61" width="11.4" height="82.99" fill="#acdda2" stroke="#2a2a2a" stroke-width="0.6"/>
<rect x="366.47" y="657.35" width="11.4" height="63.25" fill="#66c3a5" stroke="#2a2a2a" stroke-width="0.6"/>
<rect x="385.93" y="636.06" width="11.4" height="84.54" fill="#3487bd" stroke="#2a2a2a" stroke-width="0.6"/>
<rect x="405.39" y="625.18" width="11.4" height="95.42" fill="#5c53a3" stroke="#2a2a2a" stroke-width="0.6"/>
<path d="M333.25 700.86V710.19M331.05 700.86h4.4M331.05 710.19h4.4" stroke="#111" stroke-width="0.8" fill="none"/>
<path d="M352.71 633.11V642.12M350.51 633.11h4.4M350.51 642.12h4.4" stroke="#111" stroke-width="0.8" fill="none"/>
<path d="M372.17 654.17V660.54M369.97 654.17h4.4M369.97 660.54h4.4" stroke="#111" stroke-width="0.8" fill="none"/>
<path d="M391.63 629.61V642.51M389.43 629.61h4.4M389.43 642.51h4.4" stroke="#111" stroke-width="0.8" fill="none"/>
<path d="M411.09 621.61V628.76M408.89 621.61h4.4M408.89 628.76h4.4" stroke="#111" stroke-width="0.8" fill="none"/>
<path d="M323.4 610.6V720.6M322.4 720.6H420.9" stroke="#555" stroke-width="0.7" fill="none"/>
<path d="M321.4 720.6h2M322.4 713.73h1M321.4 706.85h2M322.4 699.98h1M321.4 693.1h2M322.4 686.23h1M321.4 679.35h2M322.4 672.48h1M321.4 665.6h2M322.4 658.73h1M321.4 651.85h2M322.4 644.98h1M321.4 638.1h2M322.4 631.23h1M321.4 624.35h2M322.4 617.48h1M321.4 610.6h2" stroke="#333" stroke-width="0.8" fill="none"/>
<text class="tk" transform="translate(320.3 723) scale(0.92 1)">55</text>
<text class="tk" transform="translate(320.3 709.25) scale(0.92 1)">60</text>
<text class="tk" transform="translate(320.3 695.5) scale(0.92 1)">65</text>
<text class="tk" transform="translate(320.3 681.75) scale(0.92 1)">70</text>
<text class="tk" transform="translate(320.3 668) scale(0.92 1)">75</text>
<text class="tk" transform="translate(320.3 654.25) scale(0.92 1)">80</text>
<text class="tk" transform="translate(320.3 640.5) scale(0.92 1)">85</text>
<text class="tk" transform="translate(320.3 626.75) scale(0.92 1)">90</text>
<text class="tk" transform="translate(320.3 613) scale(0.92 1)">95</text>
<text class="ti" style="font-size:7.86px" transform="translate(311.11 669.1) rotate(-90)">Phase-level Precision</text>
<path d="M391.63 627.41V614.46H411.09V619.41" stroke="#2a2a2a" stroke-width="0.85" fill="none"/>
<polygon points="397.61,607.91 398.11,609.02 399.32,609.15 398.42,609.97 398.67,611.16 397.61,610.56 396.55,611.16 396.8,609.97 395.9,609.15 397.11,609.02" fill="#222"/>
<polygon points="401.36,607.91 401.86,609.02 403.07,609.15 402.17,609.97 402.42,611.16 401.36,610.56 400.3,611.16 400.55,609.97 399.65,609.15 400.86,609.02" fill="#222"/>
<polygon points="405.11,607.91 405.61,609.02 406.82,609.15 405.92,609.97 406.17,611.16 405.11,610.56 404.05,611.16 404.3,609.97 403.4,609.15 404.61,609.02" fill="#222"/>
<rect x="459.3" y="710.03" width="11.4" height="10.57" fill="#d9dec2" stroke="#2a2a2a" stroke-width="0.6"/>
<rect x="478.79" y="650.51" width="11.4" height="70.09" fill="#acdda2" stroke="#2a2a2a" stroke-width="0.6"/>
<rect x="498.28" y="693.09" width="11.4" height="27.51" fill="#66c3a5" stroke="#2a2a2a" stroke-width="0.6"/>
<rect x="517.77" y="675.38" width="11.4" height="45.22" fill="#3487bd" stroke="#2a2a2a" stroke-width="0.6"/>
<rect x="537.26" y="630.31" width="11.4" height="90.29" fill="#5c53a3" stroke="#2a2a2a" stroke-width="0.6"/>
<path d="M465 701.49V718.58M462.8 701.49h4.4M462.8 718.58h4.4" stroke="#111" stroke-width="0.8" fill="none"/>
<path d="M484.49 644.06V656.96M482.29 644.06h4.4M482.29 656.96h4.4" stroke="#111" stroke-width="0.8" fill="none"/>
<path d="M503.98 687.19V699M501.78 687.19h4.4M501.78 699h4.4" stroke="#111" stroke-width="0.8" fill="none"/>
<path d="M523.47 663.33V687.42M521.27 663.33h4.4M521.27 687.42h4.4" stroke="#111" stroke-width="0.8" fill="none"/>
<path d="M542.96 624.09V636.53M540.76 624.09h4.4M540.76 636.53h4.4" stroke="#111" stroke-width="0.8" fill="none"/>
<path d="M455.3 610.6V720.6M454.3 720.6H552.7" stroke="#555" stroke-width="0.7" fill="none"/>
<path d="M453.3 720.6h2M454.3 713.73h1M453.3 706.85h2M454.3 699.98h1M453.3 693.1h2M454.3 686.23h1M453.3 679.35h2M454.3 672.48h1M453.3 665.6h2M454.3 658.73h1M453.3 651.85h2M454.3 644.98h1M453.3 638.1h2M454.3 631.23h1M453.3 624.35h2M454.3 617.48h1M453.3 610.6h2" stroke="#333" stroke-width="0.8" fill="none"/>
<text class="tk" transform="translate(452.3 723) scale(0.92 1)">69</text>
<text class="tk" transform="translate(452.3 709.25) scale(0.92 1)">72</text>
<text class="tk" transform="translate(452.3 695.5) scale(0.92 1)">75</text>
<text class="tk" transform="translate(452.3 681.75) scale(0.92 1)">78</text>
<text class="tk" transform="translate(452.3 668) scale(0.92 1)">81</text>
<text class="tk" transform="translate(452.3 654.25) scale(0.92 1)">84</text>
<text class="tk" transform="translate(452.3 640.5) scale(0.92 1)">87</text>
<text class="tk" transform="translate(452.3 626.75) scale(0.92 1)">90</text>
<text class="tk" transform="translate(452.3 613) scale(0.92 1)">93</text>
<text class="ti" style="font-size:8.1px" transform="translate(443.03 669.1) rotate(-90)">Phase-level Recall</text>
<path d="M484.49 641.86V617.57H542.96V621.89" stroke="#2a2a2a" stroke-width="0.85" fill="none"/>
<polygon points="509.98,610.71 510.47,611.82 511.69,611.95 510.78,612.77 511.03,613.96 509.98,613.36 508.92,613.96 509.17,612.77 508.26,611.95 509.48,611.82" fill="#222"/>
<polygon points="513.73,610.71 514.22,611.82 515.44,611.95 514.53,612.77 514.78,613.96 513.73,613.36 512.67,613.96 512.92,612.77 512.01,611.95 513.23,611.82" fill="#222"/>
<polygon points="517.48,610.71 517.97,611.82 519.19,611.95 518.28,612.77 518.53,613.96 517.48,613.36 516.42,613.96 516.67,612.77 515.76,611.95 516.98,611.82" fill="#222"/>
<rect x="590.7" y="714.23" width="11.4" height="6.37" fill="#d9dec2" stroke="#2a2a2a" stroke-width="0.6"/>
<rect x="610.31" y="647.25" width="11.4" height="73.35" fill="#acdda2" stroke="#2a2a2a" stroke-width="0.6"/>
<rect x="629.92" y="670.56" width="11.4" height="50.04" fill="#66c3a5" stroke="#2a2a2a" stroke-width="0.6"/>
<rect x="649.53" y="661.24" width="11.4" height="59.36" fill="#3487bd" stroke="#2a2a2a" stroke-width="0.6"/>
<rect x="669.14" y="626.27" width="11.4" height="94.33" fill="#5c53a3" stroke="#2a2a2a" stroke-width="0.6"/>
<path d="M596.4 708.32V720.14M594.2 708.32h4.4M594.2 720.14h4.4" stroke="#111" stroke-width="0.8" fill="none"/>
<path d="M616.01 640.72V653.78M613.81 640.72h4.4M613.81 653.78h4.4" stroke="#111" stroke-width="0.8" fill="none"/>
<path d="M635.62 665.04V676.08M633.42 665.04h4.4M633.42 676.08h4.4" stroke="#111" stroke-width="0.8" fill="none"/>
<path d="M655.23 652.46V670.02M653.03 652.46h4.4M653.03 670.02h4.4" stroke="#111" stroke-width="0.8" fill="none"/>
<path d="M674.84 619.28V633.26M672.64 619.28h4.4M672.64 633.26h4.4" stroke="#111" stroke-width="0.8" fill="none"/>
<path d="M586.5 610.6V720.6M585.5 720.6H684.6" stroke="#555" stroke-width="0.7" fill="none"/>
<path d="M584.5 720.6h2M585.5 712.74h1M584.5 704.89h2M585.5 697.03h1M584.5 689.17h2M585.5 681.31h1M584.5 673.46h2M585.5 665.6h1M584.5 657.74h2M585.5 649.89h1M584.5 642.03h2M585.5 634.17h1M584.5 626.31h2M585.5 618.46h1M584.5 610.6h2" stroke="#333" stroke-width="0.8" fill="none"/>
<text class="tk" transform="translate(584 723) scale(0.92 1)">50</text>
<text class="tk" transform="translate(584 707.29) scale(0.92 1)">55</text>
<text class="tk" transform="translate(584 691.57) scale(0.92 1)">60</text>
<text class="tk" transform="translate(584 675.86) scale(0.92 1)">65</text>
<text class="tk" transform="translate(584 660.14) scale(0.92 1)">70</text>
<text class="tk" transform="translate(584 644.43) scale(0.92 1)">75</text>
<text class="tk" transform="translate(584 628.71) scale(0.92 1)">80</text>
<text class="tk" transform="translate(584 613) scale(0.92 1)">85</text>
<text class="ti" style="font-size:8px" transform="translate(574.56 669.1) rotate(-90)">Phase-level Jaccard</text>
<path d="M616.01 638.52V615.55H674.84V617.08" stroke="#2a2a2a" stroke-width="0.85" fill="none"/>
<polygon points="641.67,608.69 642.17,609.8 643.39,609.93 642.48,610.75 642.73,611.94 641.67,611.34 640.62,611.94 640.87,610.75 639.96,609.93 641.18,609.8" fill="#222"/>
<polygon points="645.42,608.69 645.92,609.8 647.14,609.93 646.23,610.75 646.48,611.94 645.42,611.34 644.37,611.94 644.62,610.75 643.71,609.93 644.93,609.8" fill="#222"/>
<polygon points="649.17,608.69 649.67,609.8 650.89,609.93 649.98,610.75 650.23,611.94 649.17,611.34 648.12,611.94 648.37,610.75 647.46,609.93 648.68,609.8" fill="#222"/>
<text x="0.2" y="8.8" class="lt">a)</text>
<text class="ds" style="font-size:12.29px;letter-spacing:0px" transform="translate(28.8 58.9) rotate(-90)">Cholec80</text>
<path d="M30.4 31.9V86.9" stroke="#333" stroke-width="0.95"/>
<text x="0.2" y="126.6" class="lt">b)</text>
<text class="ds" style="font-size:11.34px;letter-spacing:0px" transform="translate(28 177.4) rotate(-90)">M2CAI16-Workflow</text>
<path d="M29.5 126.1V229.3" stroke="#333" stroke-width="0.95"/>
<text x="0.2" y="247.8" class="lt">c)</text>
<text class="ds" style="font-size:12.27px;letter-spacing:0px" transform="translate(28.8 299.5) rotate(-90)">AutoLaparo</text>
<path d="M30.4 265.05V333.7" stroke="#333" stroke-width="0.95"/>
<text x="0.2" y="369.7" class="lt">d)</text>
<text class="ds" style="font-size:12.09px;letter-spacing:0px" transform="translate(28.8 421.1) rotate(-90)">CATARACTS</text>
<path d="M30.5 384.5V458.5" stroke="#333" stroke-width="0.95"/>
<text x="0.2" y="491" class="lt">e)</text>
<text class="ds" style="font-size:12.3px;letter-spacing:0.47px" transform="translate(28.8 543.28) rotate(-90)">Cataract-101</text>
<path d="M31.25 503.1V582.9" stroke="#333" stroke-width="0.95"/>
<text x="0.2" y="611.4" class="lt">f)</text>
<text class="ds" style="font-size:12.19px;letter-spacing:0px" transform="translate(28.6 665.8) rotate(-90)">Cataract-21</text>
<path d="M30.5 632.7V699.6" stroke="#333" stroke-width="0.95"/>
<rect x="68.45" y="729.55" width="9.9" height="10" rx="2" fill="#d9dec2" stroke="#333" stroke-width="0.9"/>
<text x="82.2" y="737.4" class="lg">GSViT</text>
<rect x="184.65" y="729.55" width="9.9" height="10" rx="2" fill="#acdda2" stroke="#333" stroke-width="0.9"/>
<text x="197.3" y="737.4" class="lg">SelfSupSurg</text>
<rect x="322.25" y="729.55" width="9.9" height="10" rx="2" fill="#66c3a5" stroke="#333" stroke-width="0.9"/>
<text x="335.1" y="737.4" class="lg">EndoViT</text>
<rect x="443.65" y="729.55" width="9.9" height="10" rx="2" fill="#3487bd" stroke="#333" stroke-width="0.9"/>
<text x="456.4" y="737.4" class="lg">EndoSSL</text>
<rect x="568.65" y="729.55" width="9.9" height="10" rx="2" fill="#5c53a3" stroke="#333" stroke-width="0.9"/>
<text x="581.3" y="737.4" class="lg">SurgVISTA</text>
</svg>
</body></html>
